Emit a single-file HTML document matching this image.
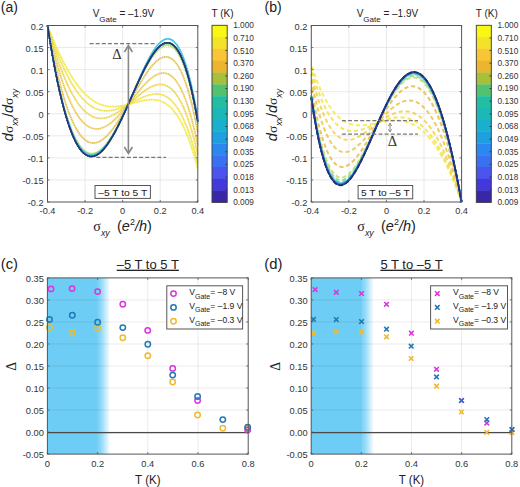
<!DOCTYPE html>
<html><head><meta charset="utf-8"><style>
html,body{margin:0;padding:0;background:#fff;}
svg{display:block;}
</style></head><body>
<svg width="520" height="487" viewBox="0 0 520 487">
<rect width="520" height="487" fill="#fff"/>
<line x1="85.08" y1="25.5" x2="85.08" y2="202.0" stroke="#e3e3e3" stroke-width="0.8"/>
<line x1="122.65" y1="25.5" x2="122.65" y2="202.0" stroke="#e3e3e3" stroke-width="0.8"/>
<line x1="160.23" y1="25.5" x2="160.23" y2="202.0" stroke="#e3e3e3" stroke-width="0.8"/>
<line x1="47.5" y1="47.56" x2="197.8" y2="47.56" stroke="#e3e3e3" stroke-width="0.8"/>
<line x1="47.5" y1="69.62" x2="197.8" y2="69.62" stroke="#e3e3e3" stroke-width="0.8"/>
<line x1="47.5" y1="91.69" x2="197.8" y2="91.69" stroke="#e3e3e3" stroke-width="0.8"/>
<line x1="47.5" y1="113.75" x2="197.8" y2="113.75" stroke="#e3e3e3" stroke-width="0.8"/>
<line x1="47.5" y1="135.81" x2="197.8" y2="135.81" stroke="#e3e3e3" stroke-width="0.8"/>
<line x1="47.5" y1="157.88" x2="197.8" y2="157.88" stroke="#e3e3e3" stroke-width="0.8"/>
<line x1="47.5" y1="179.94" x2="197.8" y2="179.94" stroke="#e3e3e3" stroke-width="0.8"/>
<path d="M47.50,25.50 L48.44,27.93 L49.38,30.33 L50.32,32.70 L51.26,35.03 L52.20,37.32 L53.14,39.58 L54.08,41.81 L55.02,44.00 L55.95,46.15 L56.89,48.27 L57.83,50.35 L58.77,52.40 L59.71,54.40 L60.65,56.37 L61.59,58.30 L62.53,60.20 L63.47,62.05 L64.41,63.87 L65.35,65.65 L66.29,67.38 L67.23,69.08 L68.17,70.74 L69.11,72.36 L70.05,73.95 L70.98,75.49 L71.92,76.99 L72.86,78.45 L73.80,79.88 L74.74,81.26 L75.68,82.60 L76.62,83.91 L77.56,85.17 L78.50,86.40 L79.44,87.59 L80.38,88.73 L81.32,89.84 L82.26,90.91 L83.20,91.95 L84.14,92.94 L85.08,93.89 L86.01,94.81 L86.95,95.69 L87.89,96.53 L88.83,97.34 L89.77,98.11 L90.71,98.84 L91.65,99.53 L92.59,100.19 L93.53,100.82 L94.47,101.41 L95.41,101.96 L96.35,102.48 L97.29,102.97 L98.23,103.42 L99.17,103.84 L100.11,104.23 L101.04,104.59 L101.98,104.92 L102.92,105.22 L103.86,105.48 L104.80,105.72 L105.74,105.93 L106.68,106.11 L107.62,106.26 L108.56,106.39 L109.50,106.49 L110.44,106.57 L111.38,106.62 L112.32,106.65 L113.26,106.66 L114.20,106.64 L115.14,106.60 L116.07,106.55 L117.01,106.47 L117.95,106.37 L118.89,106.26 L119.83,106.13 L120.77,105.99 L121.71,105.83 L122.65,105.65 L123.59,105.47 L124.53,105.27 L125.47,105.06 L126.41,104.84 L127.35,104.61 L128.29,104.38 L129.23,104.13 L130.16,103.89 L131.10,103.64 L132.04,103.38 L132.98,103.13 L133.92,102.87 L134.86,102.62 L135.80,102.36 L136.74,102.11 L137.68,101.87 L138.62,101.63 L139.56,101.39 L140.50,101.17 L141.44,100.95 L142.38,100.75 L143.32,100.56 L144.26,100.38 L145.19,100.22 L146.13,100.08 L147.07,99.95 L148.01,99.84 L148.95,99.76 L149.89,99.70 L150.83,99.66 L151.77,99.65 L152.71,99.67 L153.65,99.71 L154.59,99.79 L155.53,99.90 L156.47,100.04 L157.41,100.22 L158.35,100.44 L159.29,100.69 L160.22,100.99 L161.16,101.33 L162.10,101.71 L163.04,102.14 L163.98,102.62 L164.92,103.15 L165.86,103.73 L166.80,104.37 L167.74,105.06 L168.68,105.81 L169.62,106.61 L170.56,107.48 L171.50,108.42 L172.44,109.41 L173.38,110.48 L174.32,111.62 L175.25,112.82 L176.19,114.10 L177.13,115.46 L178.07,116.89 L179.01,118.41 L179.95,120.00 L180.89,121.68 L181.83,123.45 L182.77,125.30 L183.71,127.25 L184.65,129.29 L185.59,131.42 L186.53,133.65 L187.47,135.99 L188.41,138.42 L189.35,140.96 L190.28,143.60 L191.22,146.36 L192.16,149.23 L193.10,152.21 L194.04,155.30 L194.98,158.52 L195.92,161.86 L196.86,165.32 L197.80,168.91" fill="none" stroke="#f1ea46" stroke-width="1.8" stroke-dasharray="1.4 0.35"/>
<path d="M47.50,25.50 L48.44,28.37 L49.38,31.18 L50.32,33.95 L51.26,36.67 L52.20,39.34 L53.14,41.96 L54.08,44.53 L55.02,47.05 L55.95,49.52 L56.89,51.94 L57.83,54.32 L58.77,56.64 L59.71,58.91 L60.65,61.12 L61.59,63.29 L62.53,65.41 L63.47,67.48 L64.41,69.49 L65.35,71.45 L66.29,73.37 L67.23,75.23 L68.17,77.04 L69.11,78.80 L70.05,80.51 L70.98,82.17 L71.92,83.78 L72.86,85.34 L73.80,86.85 L74.74,88.31 L75.68,89.72 L76.62,91.08 L77.56,92.39 L78.50,93.65 L79.44,94.87 L80.38,96.03 L81.32,97.15 L82.26,98.22 L83.20,99.24 L84.14,100.22 L85.08,101.14 L86.01,102.03 L86.95,102.86 L87.89,103.65 L88.83,104.40 L89.77,105.10 L90.71,105.76 L91.65,106.37 L92.59,106.95 L93.53,107.48 L94.47,107.97 L95.41,108.41 L96.35,108.82 L97.29,109.19 L98.23,109.52 L99.17,109.81 L100.11,110.06 L101.04,110.27 L101.98,110.45 L102.92,110.60 L103.86,110.71 L104.80,110.78 L105.74,110.82 L106.68,110.83 L107.62,110.81 L108.56,110.76 L109.50,110.68 L110.44,110.57 L111.38,110.43 L112.32,110.26 L113.26,110.07 L114.20,109.86 L115.14,109.62 L116.07,109.35 L117.01,109.07 L117.95,108.77 L118.89,108.44 L119.83,108.10 L120.77,107.74 L121.71,107.36 L122.65,106.97 L123.59,106.56 L124.53,106.14 L125.47,105.71 L126.41,105.27 L127.35,104.82 L128.29,104.36 L129.23,103.89 L130.16,103.42 L131.10,102.95 L132.04,102.47 L132.98,101.99 L133.92,101.51 L134.86,101.04 L135.80,100.56 L136.74,100.09 L137.68,99.63 L138.62,99.17 L139.56,98.73 L140.50,98.29 L141.44,97.86 L142.38,97.45 L143.32,97.05 L144.26,96.67 L145.19,96.31 L146.13,95.97 L147.07,95.65 L148.01,95.35 L148.95,95.08 L149.89,94.83 L150.83,94.61 L151.77,94.42 L152.71,94.27 L153.65,94.14 L154.59,94.05 L155.53,94.00 L156.47,93.99 L157.41,94.02 L158.35,94.09 L159.29,94.21 L160.22,94.37 L161.16,94.58 L162.10,94.84 L163.04,95.16 L163.98,95.52 L164.92,95.95 L165.86,96.43 L166.80,96.97 L167.74,97.58 L168.68,98.25 L169.62,98.98 L170.56,99.79 L171.50,100.66 L172.44,101.61 L173.38,102.64 L174.32,103.74 L175.25,104.92 L176.19,106.18 L177.13,107.53 L178.07,108.96 L179.01,110.49 L179.95,112.10 L180.89,113.80 L181.83,115.61 L182.77,117.51 L183.71,119.51 L184.65,121.61 L185.59,123.82 L186.53,126.14 L187.47,128.56 L188.41,131.10 L189.35,133.75 L190.28,136.53 L191.22,139.42 L192.16,142.43 L193.10,145.57 L194.04,148.84 L194.98,152.24 L195.92,155.77 L196.86,159.44 L197.80,163.24" fill="none" stroke="#efe248" stroke-width="1.8" stroke-dasharray="1.4 0.35"/>
<path d="M47.50,25.50 L48.44,28.98 L49.38,32.39 L50.32,35.73 L51.26,39.00 L52.20,42.20 L53.14,45.33 L54.08,48.39 L55.02,51.38 L55.95,54.30 L56.89,57.15 L57.83,59.93 L58.77,62.64 L59.71,65.28 L60.65,67.85 L61.59,70.36 L62.53,72.79 L63.47,75.16 L64.41,77.46 L65.35,79.68 L66.29,81.85 L67.23,83.94 L68.17,85.97 L69.11,87.93 L70.05,89.82 L70.98,91.65 L71.92,93.41 L72.86,95.10 L73.80,96.74 L74.74,98.30 L75.68,99.80 L76.62,101.24 L77.56,102.62 L78.50,103.93 L79.44,105.18 L80.38,106.37 L81.32,107.50 L82.26,108.57 L83.20,109.58 L84.14,110.52 L85.08,111.42 L86.01,112.25 L86.95,113.02 L87.89,113.74 L88.83,114.41 L89.77,115.02 L90.71,115.57 L91.65,116.07 L92.59,116.52 L93.53,116.92 L94.47,117.26 L95.41,117.56 L96.35,117.81 L97.29,118.00 L98.23,118.16 L99.17,118.26 L100.11,118.32 L101.04,118.33 L101.98,118.31 L102.92,118.23 L103.86,118.12 L104.80,117.97 L105.74,117.77 L106.68,117.54 L107.62,117.27 L108.56,116.97 L109.50,116.63 L110.44,116.26 L111.38,115.85 L112.32,115.41 L113.26,114.95 L114.20,114.45 L115.14,113.92 L116.07,113.37 L117.01,112.79 L117.95,112.19 L118.89,111.57 L119.83,110.92 L120.77,110.25 L121.71,109.57 L122.65,108.86 L123.59,108.14 L124.53,107.40 L125.47,106.65 L126.41,105.89 L127.35,105.11 L128.29,104.33 L129.23,103.54 L130.16,102.74 L131.10,101.94 L132.04,101.13 L132.98,100.32 L133.92,99.51 L134.86,98.71 L135.80,97.91 L136.74,97.11 L137.68,96.32 L138.62,95.54 L139.56,94.77 L140.50,94.01 L141.44,93.27 L142.38,92.54 L143.32,91.83 L144.26,91.15 L145.19,90.48 L146.13,89.84 L147.07,89.22 L148.01,88.64 L148.95,88.08 L149.89,87.55 L150.83,87.06 L151.77,86.60 L152.71,86.19 L153.65,85.81 L154.59,85.47 L155.53,85.18 L156.47,84.93 L157.41,84.73 L158.35,84.59 L159.29,84.49 L160.22,84.45 L161.16,84.47 L162.10,84.54 L163.04,84.68 L163.98,84.88 L164.92,85.14 L165.86,85.48 L166.80,85.88 L167.74,86.36 L168.68,86.91 L169.62,87.54 L170.56,88.25 L171.50,89.04 L172.44,89.91 L173.38,90.87 L174.32,91.92 L175.25,93.07 L176.19,94.30 L177.13,95.64 L178.07,97.07 L179.01,98.61 L179.95,100.24 L180.89,101.99 L181.83,103.85 L182.77,105.81 L183.71,107.89 L184.65,110.09 L185.59,112.41 L186.53,114.86 L187.47,117.42 L188.41,120.12 L189.35,122.95 L190.28,125.91 L191.22,129.00 L192.16,132.24 L193.10,135.62 L194.04,139.14 L194.98,142.81 L195.92,146.64 L196.86,150.61 L197.80,154.74" fill="none" stroke="#ecd64c" stroke-width="1.8" stroke-dasharray="1.4 0.35"/>
<path d="M47.50,25.50 L48.44,29.74 L49.38,33.88 L50.32,37.93 L51.26,41.87 L52.20,45.73 L53.14,49.49 L54.08,53.15 L55.02,56.72 L55.95,60.19 L56.89,63.57 L57.83,66.86 L58.77,70.05 L59.71,73.16 L60.65,76.17 L61.59,79.08 L62.53,81.91 L63.47,84.65 L64.41,87.29 L65.35,89.85 L66.29,92.32 L67.23,94.70 L68.17,96.99 L69.11,99.20 L70.05,101.32 L70.98,103.35 L71.92,105.30 L72.86,107.16 L73.80,108.94 L74.74,110.64 L75.68,112.26 L76.62,113.79 L77.56,115.25 L78.50,116.62 L79.44,117.92 L80.38,119.14 L81.32,120.28 L82.26,121.35 L83.20,122.34 L84.14,123.26 L85.08,124.10 L86.01,124.87 L86.95,125.57 L87.89,126.20 L88.83,126.76 L89.77,127.26 L90.71,127.68 L91.65,128.04 L92.59,128.34 L93.53,128.57 L94.47,128.74 L95.41,128.84 L96.35,128.89 L97.29,128.88 L98.23,128.81 L99.17,128.68 L100.11,128.50 L101.04,128.26 L101.98,127.98 L102.92,127.64 L103.86,127.25 L104.80,126.81 L105.74,126.32 L106.68,125.79 L107.62,125.21 L108.56,124.59 L109.50,123.93 L110.44,123.23 L111.38,122.48 L112.32,121.71 L113.26,120.89 L114.20,120.04 L115.14,119.16 L116.07,118.25 L117.01,117.31 L117.95,116.34 L118.89,115.34 L119.83,114.32 L120.77,113.28 L121.71,112.21 L122.65,111.12 L123.59,110.02 L124.53,108.90 L125.47,107.77 L126.41,106.62 L127.35,105.47 L128.29,104.30 L129.23,103.13 L130.16,101.95 L131.10,100.76 L132.04,99.58 L132.98,98.40 L133.92,97.21 L134.86,96.04 L135.80,94.87 L136.74,93.70 L137.68,92.55 L138.62,91.41 L139.56,90.28 L140.50,89.17 L141.44,88.08 L142.38,87.01 L143.32,85.96 L144.26,84.93 L145.19,83.93 L146.13,82.96 L147.07,82.02 L148.01,81.12 L148.95,80.25 L149.89,79.42 L150.83,78.62 L151.77,77.87 L152.71,77.17 L153.65,76.51 L154.59,75.90 L155.53,75.34 L156.47,74.84 L157.41,74.39 L158.35,74.00 L159.29,73.68 L160.22,73.41 L161.16,73.21 L162.10,73.08 L163.04,73.03 L163.98,73.04 L164.92,73.13 L165.86,73.30 L166.80,73.55 L167.74,73.89 L168.68,74.31 L169.62,74.82 L170.56,75.42 L171.50,76.11 L172.44,76.91 L173.38,77.80 L174.32,78.80 L175.25,79.90 L176.19,81.10 L177.13,82.42 L178.07,83.85 L179.01,85.40 L179.95,87.07 L180.89,88.86 L181.83,90.78 L182.77,92.82 L183.71,94.99 L184.65,97.30 L185.59,99.74 L186.53,102.32 L187.47,105.05 L188.41,107.92 L189.35,110.94 L190.28,114.11 L191.22,117.43 L192.16,120.92 L193.10,124.56 L194.04,128.37 L194.98,132.34 L195.92,136.49 L196.86,140.81 L197.80,145.30" fill="none" stroke="#e8ca52" stroke-width="1.8" stroke-dasharray="1.4 0.35"/>
<path d="M47.50,25.50 L48.44,30.68 L49.38,35.73 L50.32,40.64 L51.26,45.44 L52.20,50.10 L53.14,54.64 L54.08,59.05 L55.02,63.33 L55.95,67.49 L56.89,71.53 L57.83,75.44 L58.77,79.24 L59.71,82.91 L60.65,86.46 L61.59,89.89 L62.53,93.20 L63.47,96.40 L64.41,99.48 L65.35,102.44 L66.29,105.29 L67.23,108.02 L68.17,110.64 L69.11,113.15 L70.05,115.55 L70.98,117.84 L71.92,120.02 L72.86,122.09 L73.80,124.06 L74.74,125.92 L75.68,127.68 L76.62,129.34 L77.56,130.89 L78.50,132.34 L79.44,133.70 L80.38,134.95 L81.32,136.11 L82.26,137.18 L83.20,138.15 L84.14,139.02 L85.08,139.81 L86.01,140.51 L86.95,141.11 L87.89,141.63 L88.83,142.07 L89.77,142.42 L90.71,142.69 L91.65,142.87 L92.59,142.98 L93.53,143.00 L94.47,142.95 L95.41,142.83 L96.35,142.63 L97.29,142.36 L98.23,142.02 L99.17,141.61 L100.11,141.13 L101.04,140.59 L101.98,139.98 L102.92,139.31 L103.86,138.58 L104.80,137.79 L105.74,136.94 L106.68,136.04 L107.62,135.08 L108.56,134.08 L109.50,133.02 L110.44,131.91 L111.38,130.76 L112.32,129.57 L113.26,128.33 L114.20,127.05 L115.14,125.73 L116.07,124.37 L117.01,122.98 L117.95,121.56 L118.89,120.10 L119.83,118.62 L120.77,117.10 L121.71,115.57 L122.65,114.00 L123.59,112.42 L124.53,110.82 L125.47,109.20 L126.41,107.57 L127.35,105.92 L128.29,104.26 L129.23,102.59 L130.16,100.92 L131.10,99.24 L132.04,97.56 L132.98,95.88 L133.92,94.20 L134.86,92.52 L135.80,90.86 L136.74,89.20 L137.68,87.56 L138.62,85.93 L139.56,84.32 L140.50,82.73 L141.44,81.16 L142.38,79.62 L143.32,78.11 L144.26,76.62 L145.19,75.17 L146.13,73.75 L147.07,72.37 L148.01,71.03 L148.95,69.74 L149.89,68.49 L150.83,67.29 L151.77,66.14 L152.71,65.04 L153.65,64.00 L154.59,63.02 L155.53,62.10 L156.47,61.24 L157.41,60.46 L158.35,59.74 L159.29,59.10 L160.22,58.53 L161.16,58.04 L162.10,57.63 L163.04,57.31 L163.98,57.07 L164.92,56.92 L165.86,56.87 L166.80,56.91 L167.74,57.06 L168.68,57.30 L169.62,57.65 L170.56,58.11 L171.50,58.67 L172.44,59.36 L173.38,60.15 L174.32,61.07 L175.25,62.12 L176.19,63.29 L177.13,64.58 L178.07,66.02 L179.01,67.58 L179.95,69.29 L180.89,71.14 L181.83,73.13 L182.77,75.28 L183.71,77.57 L184.65,80.02 L185.59,82.63 L186.53,85.41 L187.47,88.34 L188.41,91.45 L189.35,94.73 L190.28,98.18 L191.22,101.82 L192.16,105.63 L193.10,109.63 L194.04,113.82 L194.98,118.21 L195.92,122.79 L196.86,127.57 L197.80,132.55" fill="none" stroke="#e2c056" stroke-width="1.8" stroke-dasharray="1.4 0.35"/>
<path d="M47.50,25.50 L48.44,31.35 L49.38,37.04 L50.32,42.58 L51.26,47.97 L52.20,53.21 L53.14,58.30 L54.08,63.24 L55.02,68.04 L55.95,72.69 L56.89,77.19 L57.83,81.55 L58.77,85.77 L59.71,89.85 L60.65,93.78 L61.59,97.58 L62.53,101.24 L63.47,104.76 L64.41,108.14 L65.35,111.39 L66.29,114.51 L67.23,117.50 L68.17,120.35 L69.11,123.08 L70.05,125.68 L70.98,128.15 L71.92,130.49 L72.86,132.72 L73.80,134.82 L74.74,136.79 L75.68,138.65 L76.62,140.39 L77.56,142.02 L78.50,143.53 L79.44,144.92 L80.38,146.20 L81.32,147.37 L82.26,148.44 L83.20,149.39 L84.14,150.24 L85.08,150.99 L86.01,151.63 L86.95,152.17 L87.89,152.61 L88.83,152.96 L89.77,153.20 L90.71,153.36 L91.65,153.42 L92.59,153.39 L93.53,153.27 L94.47,153.07 L95.41,152.78 L96.35,152.40 L97.29,151.95 L98.23,151.41 L99.17,150.80 L100.11,150.11 L101.04,149.34 L101.98,148.51 L102.92,147.60 L103.86,146.63 L104.80,145.59 L105.74,144.49 L106.68,143.32 L107.62,142.09 L108.56,140.81 L109.50,139.47 L110.44,138.08 L111.38,136.63 L112.32,135.14 L113.26,133.59 L114.20,132.01 L115.14,130.37 L116.07,128.70 L117.01,126.99 L117.95,125.24 L118.89,123.46 L119.83,121.65 L120.77,119.80 L121.71,117.93 L122.65,116.03 L123.59,114.11 L124.53,112.17 L125.47,110.20 L126.41,108.23 L127.35,106.23 L128.29,104.23 L129.23,102.22 L130.16,100.20 L131.10,98.17 L132.04,96.15 L132.98,94.12 L133.92,92.10 L134.86,90.09 L135.80,88.09 L136.74,86.09 L137.68,84.11 L138.62,82.15 L139.56,80.21 L140.50,78.29 L141.44,76.40 L142.38,74.54 L143.32,72.70 L144.26,70.90 L145.19,69.14 L146.13,67.42 L147.07,65.74 L148.01,64.10 L148.95,62.52 L149.89,60.98 L150.83,59.50 L151.77,58.08 L152.71,56.71 L153.65,55.41 L154.59,54.18 L155.53,53.01 L156.47,51.92 L157.41,50.90 L158.35,49.96 L159.29,49.10 L160.22,48.32 L161.16,47.64 L162.10,47.04 L163.04,46.53 L163.98,46.13 L164.92,45.82 L165.86,45.61 L166.80,45.51 L167.74,45.52 L168.68,45.65 L169.62,45.88 L170.56,46.24 L171.50,46.72 L172.44,47.33 L173.38,48.06 L174.32,48.93 L175.25,49.93 L176.19,51.08 L177.13,52.36 L178.07,53.79 L179.01,55.37 L179.95,57.11 L180.89,58.99 L181.83,61.04 L182.77,63.26 L183.71,65.64 L184.65,68.19 L185.59,70.91 L186.53,73.81 L187.47,76.90 L188.41,80.16 L189.35,83.62 L190.28,87.27 L191.22,91.11 L192.16,95.16 L193.10,99.40 L194.04,103.86 L194.98,108.52 L195.92,113.40 L196.86,118.50 L197.80,123.82" fill="none" stroke="#c8dc6a" stroke-width="1.5" stroke-dasharray="1.4 0.35"/>
<path d="M47.50,25.50 L48.44,31.38 L49.38,37.11 L50.32,42.68 L51.26,48.11 L52.20,53.38 L53.14,58.50 L54.08,63.47 L55.02,68.29 L55.95,72.97 L56.89,77.50 L57.83,81.88 L58.77,86.12 L59.71,90.22 L60.65,94.18 L61.59,97.99 L62.53,101.67 L63.47,105.21 L64.41,108.61 L65.35,111.88 L66.29,115.01 L67.23,118.01 L68.17,120.88 L69.11,123.62 L70.05,126.22 L70.98,128.71 L71.92,131.06 L72.86,133.29 L73.80,135.40 L74.74,137.38 L75.68,139.25 L76.62,140.99 L77.56,142.62 L78.50,144.13 L79.44,145.53 L80.38,146.81 L81.32,147.98 L82.26,149.05 L83.20,150.00 L84.14,150.85 L85.08,151.59 L86.01,152.23 L86.95,152.77 L87.89,153.21 L88.83,153.55 L89.77,153.79 L90.71,153.94 L91.65,153.99 L92.59,153.96 L93.53,153.83 L94.47,153.62 L95.41,153.32 L96.35,152.94 L97.29,152.47 L98.23,151.93 L99.17,151.30 L100.11,150.60 L101.04,149.83 L101.98,148.98 L102.92,148.07 L103.86,147.08 L104.80,146.03 L105.74,144.91 L106.68,143.73 L107.62,142.50 L108.56,141.20 L109.50,139.84 L110.44,138.44 L111.38,136.98 L112.32,135.47 L113.26,133.91 L114.20,132.31 L115.14,130.66 L116.07,128.97 L117.01,127.25 L117.95,125.48 L118.89,123.68 L119.83,121.85 L120.77,119.98 L121.71,118.09 L122.65,116.17 L123.59,114.23 L124.53,112.26 L125.47,110.28 L126.41,108.28 L127.35,106.26 L128.29,104.23 L129.23,102.19 L130.16,100.14 L131.10,98.08 L132.04,96.03 L132.98,93.97 L133.92,91.92 L134.86,89.87 L135.80,87.83 L136.74,85.80 L137.68,83.78 L138.62,81.79 L139.56,79.81 L140.50,77.85 L141.44,75.92 L142.38,74.02 L143.32,72.15 L144.26,70.32 L145.19,68.52 L146.13,66.76 L147.07,65.05 L148.01,63.38 L148.95,61.76 L149.89,60.19 L150.83,58.68 L151.77,57.23 L152.71,55.83 L153.65,54.50 L154.59,53.24 L155.53,52.05 L156.47,50.92 L157.41,49.88 L158.35,48.91 L159.29,48.03 L160.22,47.23 L161.16,46.52 L162.10,45.90 L163.04,45.37 L163.98,44.95 L164.92,44.62 L165.86,44.40 L166.80,44.28 L167.74,44.28 L168.68,44.39 L169.62,44.61 L170.56,44.96 L171.50,45.43 L172.44,46.03 L173.38,46.76 L174.32,47.62 L175.25,48.62 L176.19,49.76 L177.13,51.04 L178.07,52.47 L179.01,54.05 L179.95,55.79 L180.89,57.68 L181.83,59.74 L182.77,61.96 L183.71,64.35 L184.65,66.91 L185.59,69.64 L186.53,72.56 L187.47,75.66 L188.41,78.94 L189.35,82.42 L190.28,86.09 L191.22,89.96 L192.16,94.02 L193.10,98.30 L194.04,102.78 L194.98,107.47 L195.92,112.39 L196.86,117.52 L197.80,122.87" fill="none" stroke="#98d88e" stroke-width="1.5" stroke-dasharray="1.4 0.35"/>
<path d="M47.50,25.50 L48.44,31.42 L49.38,37.18 L50.32,42.79 L51.26,48.24 L52.20,53.55 L53.14,58.70 L54.08,63.70 L55.02,68.55 L55.95,73.25 L56.89,77.80 L57.83,82.21 L58.77,86.48 L59.71,90.60 L60.65,94.57 L61.59,98.41 L62.53,102.10 L63.47,105.66 L64.41,109.08 L65.35,112.36 L66.29,115.51 L67.23,118.52 L68.17,121.40 L69.11,124.15 L70.05,126.77 L70.98,129.26 L71.92,131.63 L72.86,133.87 L73.80,135.98 L74.74,137.97 L75.68,139.84 L76.62,141.59 L77.56,143.22 L78.50,144.74 L79.44,146.14 L80.38,147.42 L81.32,148.59 L82.26,149.66 L83.20,150.61 L84.14,151.46 L85.08,152.20 L86.01,152.84 L86.95,153.37 L87.89,153.80 L88.83,154.14 L89.77,154.38 L90.71,154.52 L91.65,154.57 L92.59,154.53 L93.53,154.39 L94.47,154.17 L95.41,153.87 L96.35,153.48 L97.29,153.00 L98.23,152.45 L99.17,151.81 L100.11,151.11 L101.04,150.32 L101.98,149.46 L102.92,148.54 L103.86,147.54 L104.80,146.48 L105.74,145.35 L106.68,144.16 L107.62,142.91 L108.56,141.60 L109.50,140.23 L110.44,138.81 L111.38,137.34 L112.32,135.82 L113.26,134.24 L114.20,132.63 L115.14,130.97 L116.07,129.26 L117.01,127.52 L117.95,125.74 L118.89,123.92 L119.83,122.07 L120.77,120.19 L121.71,118.27 L122.65,116.33 L123.59,114.37 L124.53,112.38 L125.47,110.37 L126.41,108.33 L127.35,106.29 L128.29,104.22 L129.23,102.15 L130.16,100.07 L131.10,97.98 L132.04,95.88 L132.98,93.78 L133.92,91.69 L134.86,89.60 L135.80,87.52 L136.74,85.44 L137.68,83.38 L138.62,81.34 L139.56,79.32 L140.50,77.32 L141.44,75.34 L142.38,73.39 L143.32,71.48 L144.26,69.60 L145.19,67.76 L146.13,65.95 L147.07,64.20 L148.01,62.48 L148.95,60.82 L149.89,59.21 L150.83,57.66 L151.77,56.17 L152.71,54.73 L153.65,53.37 L154.59,52.07 L155.53,50.84 L156.47,49.68 L157.41,48.60 L158.35,47.61 L159.29,46.69 L160.22,45.86 L161.16,45.12 L162.10,44.48 L163.04,43.93 L163.98,43.48 L164.92,43.13 L165.86,42.88 L166.80,42.75 L167.74,42.73 L168.68,42.82 L169.62,43.03 L170.56,43.36 L171.50,43.82 L172.44,44.41 L173.38,45.13 L174.32,45.98 L175.25,46.97 L176.19,48.11 L177.13,49.39 L178.07,50.82 L179.01,52.40 L179.95,54.14 L180.89,56.04 L181.83,58.11 L182.77,60.33 L183.71,62.73 L184.65,65.31 L185.59,68.06 L186.53,70.99 L187.47,74.11 L188.41,77.42 L189.35,80.92 L190.28,84.61 L191.22,88.51 L192.16,92.61 L193.10,96.92 L194.04,101.43 L194.98,106.17 L195.92,111.12 L196.86,116.29 L197.80,121.69" fill="none" stroke="#5ecfae" stroke-width="1.5" stroke-dasharray="1.4 0.35"/>
<path d="M47.50,25.50 L48.44,31.45 L49.38,37.25 L50.32,42.89 L51.26,48.38 L52.20,53.71 L53.14,58.89 L54.08,63.92 L55.02,68.80 L55.95,73.53 L56.89,78.11 L57.83,82.54 L58.77,86.83 L59.71,90.97 L60.65,94.97 L61.59,98.82 L62.53,102.54 L63.47,106.11 L64.41,109.55 L65.35,112.85 L66.29,116.01 L67.23,119.04 L68.17,121.93 L69.11,124.69 L70.05,127.32 L70.98,129.82 L71.92,132.20 L72.86,134.44 L73.80,136.56 L74.74,138.56 L75.68,140.44 L76.62,142.19 L77.56,143.83 L78.50,145.35 L79.44,146.75 L80.38,148.03 L81.32,149.21 L82.26,150.27 L83.20,151.23 L84.14,152.07 L85.08,152.81 L86.01,153.45 L86.95,153.98 L87.89,154.41 L88.83,154.74 L89.77,154.98 L90.71,155.12 L91.65,155.16 L92.59,155.12 L93.53,154.98 L94.47,154.75 L95.41,154.44 L96.35,154.04 L97.29,153.56 L98.23,153.00 L99.17,152.36 L100.11,151.65 L101.04,150.86 L101.98,150.00 L102.92,149.06 L103.86,148.06 L104.80,146.99 L105.74,145.86 L106.68,144.66 L107.62,143.41 L108.56,142.09 L109.50,140.72 L110.44,139.29 L111.38,137.81 L112.32,136.29 L113.26,134.71 L114.20,133.08 L115.14,131.41 L116.07,129.70 L117.01,127.94 L117.95,126.15 L118.89,124.32 L119.83,122.45 L120.77,120.54 L121.71,118.60 L122.65,116.63 L123.59,114.63 L124.53,112.60 L125.47,110.54 L126.41,108.45 L127.35,106.35 L128.29,104.22 L129.23,102.07 L130.16,99.91 L131.10,97.73 L132.04,95.55 L132.98,93.36 L133.92,91.16 L134.86,88.96 L135.80,86.77 L136.74,84.58 L137.68,82.41 L138.62,80.25 L139.56,78.10 L140.50,75.98 L141.44,73.89 L142.38,71.82 L143.32,69.78 L144.26,67.78 L145.19,65.82 L146.13,63.90 L147.07,62.02 L148.01,60.20 L148.95,58.42 L149.89,56.70 L150.83,55.04 L151.77,53.44 L152.71,51.91 L153.65,50.44 L154.59,49.04 L155.53,47.72 L156.47,46.47 L157.41,45.31 L158.35,44.23 L159.29,43.23 L160.22,42.32 L161.16,41.51 L162.10,40.79 L163.04,40.17 L163.98,39.66 L164.92,39.25 L165.86,38.95 L166.80,38.76 L167.74,38.69 L168.68,38.74 L169.62,38.91 L170.56,39.21 L171.50,39.63 L172.44,40.19 L173.38,40.89 L174.32,41.72 L175.25,42.70 L176.19,43.83 L177.13,45.10 L178.07,46.53 L179.01,48.12 L179.95,49.87 L180.89,51.78 L181.83,53.86 L182.77,56.11 L183.71,58.54 L184.65,61.15 L185.59,63.94 L186.53,66.92 L187.47,70.09 L188.41,73.46 L189.35,77.02 L190.28,80.78 L191.22,84.75 L192.16,88.93 L193.10,93.32 L194.04,97.93 L194.98,102.76 L195.92,107.82 L196.86,113.11 L197.80,118.62" fill="none" stroke="#48cad0" stroke-width="1.5" stroke-dasharray="1.4 0.35"/>
<path d="M47.50,25.50 L48.44,31.49 L49.38,37.32 L50.32,43.00 L51.26,48.52 L52.20,53.88 L53.14,59.09 L54.08,64.15 L55.02,69.05 L55.95,73.81 L56.89,78.42 L57.83,82.87 L58.77,87.18 L59.71,91.35 L60.65,95.36 L61.59,99.24 L62.53,102.97 L63.47,106.57 L64.41,110.02 L65.35,113.33 L66.29,116.51 L67.23,119.55 L68.17,122.45 L69.11,125.23 L70.05,127.87 L70.98,130.38 L71.92,132.76 L72.86,135.02 L73.80,137.14 L74.74,139.15 L75.68,141.03 L76.62,142.79 L77.56,144.43 L78.50,145.95 L79.44,147.35 L80.38,148.64 L81.32,149.82 L82.26,150.88 L83.20,151.83 L84.14,152.68 L85.08,153.41 L86.01,154.05 L86.95,154.58 L87.89,155.00 L88.83,155.33 L89.77,155.56 L90.71,155.69 L91.65,155.73 L92.59,155.67 L93.53,155.53 L94.47,155.29 L95.41,154.97 L96.35,154.56 L97.29,154.07 L98.23,153.50 L99.17,152.85 L100.11,152.12 L101.04,151.31 L101.98,150.44 L102.92,149.49 L103.86,148.47 L104.80,147.39 L105.74,146.24 L106.68,145.03 L107.62,143.75 L108.56,142.42 L109.50,141.03 L110.44,139.59 L111.38,138.09 L112.32,136.54 L113.26,134.94 L114.20,133.30 L115.14,131.61 L116.07,129.88 L117.01,128.10 L117.95,126.29 L118.89,124.44 L119.83,122.55 L120.77,120.63 L121.71,118.67 L122.65,116.69 L123.59,114.67 L124.53,112.63 L125.47,110.56 L126.41,108.47 L127.35,106.35 L128.29,104.22 L129.23,102.07 L130.16,99.90 L131.10,97.73 L132.04,95.54 L132.98,93.35 L133.92,91.16 L134.86,88.97 L135.80,86.78 L136.74,84.60 L137.68,82.44 L138.62,80.29 L139.56,78.15 L140.50,76.04 L141.44,73.95 L142.38,71.90 L143.32,69.87 L144.26,67.88 L145.19,65.93 L146.13,64.02 L147.07,62.16 L148.01,60.34 L148.95,58.58 L149.89,56.87 L150.83,55.22 L151.77,53.63 L152.71,52.11 L153.65,50.65 L154.59,49.26 L155.53,47.94 L156.47,46.71 L157.41,45.55 L158.35,44.47 L159.29,43.49 L160.22,42.59 L161.16,41.78 L162.10,41.07 L163.04,40.46 L163.98,39.95 L164.92,39.54 L165.86,39.25 L166.80,39.07 L167.74,39.00 L168.68,39.05 L169.62,39.22 L170.56,39.52 L171.50,39.95 L172.44,40.51 L173.38,41.21 L174.32,42.05 L175.25,43.03 L176.19,44.15 L177.13,45.43 L178.07,46.86 L179.01,48.45 L179.95,50.19 L180.89,52.11 L181.83,54.19 L182.77,56.44 L183.71,58.87 L184.65,61.47 L185.59,64.26 L186.53,67.24 L187.47,70.40 L188.41,73.76 L189.35,77.32 L190.28,81.08 L191.22,85.04 L192.16,89.21 L193.10,93.60 L194.04,98.20 L194.98,103.03 L195.92,108.07 L196.86,113.35 L197.80,118.86" fill="none" stroke="#3fc3e8" stroke-width="1.5" stroke-dasharray="1.4 0.35"/>
<path d="M47.50,25.50 L48.44,31.51 L49.38,37.36 L50.32,43.05 L51.26,48.59 L52.20,53.97 L53.14,59.19 L54.08,64.26 L55.02,69.18 L55.95,73.95 L56.89,78.57 L57.83,83.04 L58.77,87.36 L59.71,91.53 L60.65,95.56 L61.59,99.45 L62.53,103.19 L63.47,106.79 L64.41,110.25 L65.35,113.57 L66.29,116.76 L67.23,119.80 L68.17,122.72 L69.11,125.49 L70.05,128.14 L70.98,130.66 L71.92,133.04 L72.86,135.30 L73.80,137.43 L74.74,139.44 L75.68,141.32 L76.62,143.08 L77.56,144.72 L78.50,146.25 L79.44,147.65 L80.38,148.94 L81.32,150.11 L82.26,151.18 L83.20,152.13 L84.14,152.97 L85.08,153.70 L86.01,154.33 L86.95,154.86 L87.89,155.28 L88.83,155.60 L89.77,155.83 L90.71,155.95 L91.65,155.99 L92.59,155.92 L93.53,155.77 L94.47,155.53 L95.41,155.20 L96.35,154.78 L97.29,154.28 L98.23,153.70 L99.17,153.03 L100.11,152.29 L101.04,151.48 L101.98,150.58 L102.92,149.62 L103.86,148.59 L104.80,147.49 L105.74,146.32 L106.68,145.09 L107.62,143.80 L108.56,142.45 L109.50,141.04 L110.44,139.58 L111.38,138.06 L112.32,136.49 L113.26,134.87 L114.20,133.21 L115.14,131.50 L116.07,129.76 L117.01,127.97 L117.95,126.14 L118.89,124.28 L119.83,122.38 L120.77,120.46 L121.71,118.50 L122.65,116.52 L123.59,114.52 L124.53,112.49 L125.47,110.45 L126.41,108.39 L127.35,106.31 L128.29,104.22 L129.23,102.13 L130.16,100.02 L131.10,97.92 L132.04,95.81 L132.98,93.70 L133.92,91.60 L134.86,89.50 L135.80,87.41 L136.74,85.34 L137.68,83.28 L138.62,81.23 L139.56,79.21 L140.50,77.21 L141.44,75.24 L142.38,73.30 L143.32,71.39 L144.26,69.51 L145.19,67.67 L146.13,65.88 L147.07,64.12 L148.01,62.42 L148.95,60.76 L149.89,59.16 L150.83,57.61 L151.77,56.12 L152.71,54.69 L153.65,53.33 L154.59,52.03 L155.53,50.80 L156.47,49.65 L157.41,48.58 L158.35,47.58 L159.29,46.67 L160.22,45.84 L161.16,45.11 L162.10,44.46 L163.04,43.91 L163.98,43.46 L164.92,43.12 L165.86,42.87 L166.80,42.74 L167.74,42.72 L168.68,42.81 L169.62,43.02 L170.56,43.36 L171.50,43.81 L172.44,44.40 L173.38,45.12 L174.32,45.98 L175.25,46.97 L176.19,48.11 L177.13,49.39 L178.07,50.82 L179.01,52.40 L179.95,54.14 L180.89,56.04 L181.83,58.10 L182.77,60.33 L183.71,62.73 L184.65,65.31 L185.59,68.06 L186.53,70.99 L187.47,74.11 L188.41,77.42 L189.35,80.92 L190.28,84.61 L191.22,88.51 L192.16,92.61 L193.10,96.92 L194.04,101.43 L194.98,106.17 L195.92,111.12 L196.86,116.29 L197.80,121.69" fill="none" stroke="#36a8e4" stroke-width="1.5" stroke-dasharray="1.4 0.35"/>
<path d="M47.50,25.50 L48.44,31.53 L49.38,37.39 L50.32,43.10 L51.26,48.65 L52.20,54.05 L53.14,59.29 L54.08,64.38 L55.02,69.31 L55.95,74.09 L56.89,78.72 L57.83,83.20 L58.77,87.53 L59.71,91.72 L60.65,95.76 L61.59,99.66 L62.53,103.41 L63.47,107.02 L64.41,110.49 L65.35,113.81 L66.29,117.01 L67.23,120.06 L68.17,122.98 L69.11,125.76 L70.05,128.41 L70.98,130.93 L71.92,133.33 L72.86,135.59 L73.80,137.72 L74.74,139.73 L75.68,141.62 L76.62,143.38 L77.56,145.02 L78.50,146.55 L79.44,147.95 L80.38,149.24 L81.32,150.42 L82.26,151.48 L83.20,152.43 L84.14,153.27 L85.08,154.01 L86.01,154.63 L86.95,155.16 L87.89,155.58 L88.83,155.90 L89.77,156.12 L90.71,156.24 L91.65,156.27 L92.59,156.20 L93.53,156.04 L94.47,155.80 L95.41,155.46 L96.35,155.04 L97.29,154.53 L98.23,153.94 L99.17,153.28 L100.11,152.53 L101.04,151.71 L101.98,150.81 L102.92,149.84 L103.86,148.80 L104.80,147.69 L105.74,146.52 L106.68,145.28 L107.62,143.98 L108.56,142.62 L109.50,141.20 L110.44,139.73 L111.38,138.20 L112.32,136.63 L113.26,135.00 L114.20,133.33 L115.14,131.61 L116.07,129.85 L117.01,128.06 L117.95,126.22 L118.89,124.35 L119.83,122.45 L120.77,120.51 L121.71,118.55 L122.65,116.56 L123.59,114.55 L124.53,112.52 L125.47,110.46 L126.41,108.40 L127.35,106.31 L128.29,104.22 L129.23,102.12 L130.16,100.01 L131.10,97.90 L132.04,95.79 L132.98,93.68 L133.92,91.58 L134.86,89.48 L135.80,87.39 L136.74,85.31 L137.68,83.25 L138.62,81.21 L139.56,79.19 L140.50,77.19 L141.44,75.22 L142.38,73.28 L143.32,71.37 L144.26,69.50 L145.19,67.66 L146.13,65.86 L147.07,64.11 L148.01,62.41 L148.95,60.75 L149.89,59.15 L150.83,57.60 L151.77,56.11 L152.71,54.68 L153.65,53.32 L154.59,52.02 L155.53,50.80 L156.47,49.65 L157.41,48.57 L158.35,47.58 L159.29,46.66 L160.22,45.84 L161.16,45.10 L162.10,44.46 L163.04,43.91 L163.98,43.46 L164.92,43.11 L165.86,42.87 L166.80,42.74 L167.74,42.72 L168.68,42.81 L169.62,43.02 L170.56,43.35 L171.50,43.81 L172.44,44.40 L173.38,45.12 L174.32,45.98 L175.25,46.97 L176.19,48.11 L177.13,49.39 L178.07,50.82 L179.01,52.40 L179.95,54.14 L180.89,56.04 L181.83,58.10 L182.77,60.33 L183.71,62.73 L184.65,65.31 L185.59,68.06 L186.53,70.99 L187.47,74.11 L188.41,77.42 L189.35,80.92 L190.28,84.61 L191.22,88.51 L192.16,92.61 L193.10,96.92 L194.04,101.43 L194.98,106.17 L195.92,111.12 L196.86,116.29 L197.80,121.69" fill="none" stroke="#2a86dc" stroke-width="1.5" stroke-dasharray="1.4 0.35"/>
<path d="M47.50,25.50 L48.44,31.54 L49.38,37.43 L50.32,43.16 L51.26,48.72 L52.20,54.13 L53.14,59.39 L54.08,64.49 L55.02,69.44 L55.95,74.23 L56.89,78.87 L57.83,83.37 L58.77,87.71 L59.71,91.91 L60.65,95.96 L61.59,99.86 L62.53,103.62 L63.47,107.24 L64.41,110.72 L65.35,114.06 L66.29,117.25 L67.23,120.32 L68.17,123.24 L69.11,126.03 L70.05,128.69 L70.98,131.21 L71.92,133.61 L72.86,135.87 L73.80,138.01 L74.74,140.03 L75.68,141.91 L76.62,143.68 L77.56,145.32 L78.50,146.85 L79.44,148.26 L80.38,149.55 L81.32,150.72 L82.26,151.78 L83.20,152.73 L84.14,153.57 L85.08,154.31 L86.01,154.93 L86.95,155.45 L87.89,155.87 L88.83,156.19 L89.77,156.41 L90.71,156.53 L91.65,156.55 L92.59,156.48 L93.53,156.32 L94.47,156.07 L95.41,155.73 L96.35,155.30 L97.29,154.79 L98.23,154.19 L99.17,153.52 L100.11,152.77 L101.04,151.94 L101.98,151.03 L102.92,150.06 L103.86,149.01 L104.80,147.89 L105.74,146.71 L106.68,145.47 L107.62,144.16 L108.56,142.79 L109.50,141.36 L110.44,139.88 L111.38,138.35 L112.32,136.76 L113.26,135.13 L114.20,133.45 L115.14,131.72 L116.07,129.95 L117.01,128.15 L117.95,126.30 L118.89,124.42 L119.83,122.51 L120.77,120.57 L121.71,118.59 L122.65,116.60 L123.59,114.58 L124.53,112.54 L125.47,110.48 L126.41,108.41 L127.35,106.32 L128.29,104.22 L129.23,102.12 L130.16,100.01 L131.10,97.89 L132.04,95.78 L132.98,93.67 L133.92,91.56 L134.86,89.46 L135.80,87.37 L136.74,85.29 L137.68,83.23 L138.62,81.19 L139.56,79.17 L140.50,77.17 L141.44,75.20 L142.38,73.26 L143.32,71.35 L144.26,69.48 L145.19,67.64 L146.13,65.85 L147.07,64.10 L148.01,62.39 L148.95,60.74 L149.89,59.13 L150.83,57.59 L151.77,56.10 L152.71,54.67 L153.65,53.31 L154.59,52.02 L155.53,50.79 L156.47,49.64 L157.41,48.57 L158.35,47.57 L159.29,46.66 L160.22,45.83 L161.16,45.10 L162.10,44.45 L163.04,43.91 L163.98,43.46 L164.92,43.11 L165.86,42.87 L166.80,42.74 L167.74,42.71 L168.68,42.81 L169.62,43.02 L170.56,43.35 L171.50,43.81 L172.44,44.40 L173.38,45.12 L174.32,45.97 L175.25,46.97 L176.19,48.10 L177.13,49.39 L178.07,50.82 L179.01,52.40 L179.95,54.14 L180.89,56.04 L181.83,58.10 L182.77,60.33 L183.71,62.73 L184.65,65.31 L185.59,68.06 L186.53,70.99 L187.47,74.11 L188.41,77.42 L189.35,80.92 L190.28,84.61 L191.22,88.51 L192.16,92.61 L193.10,96.92 L194.04,101.43 L194.98,106.17 L195.92,111.12 L196.86,116.29 L197.80,121.69" fill="none" stroke="#2a62c8" stroke-width="1.5" stroke-dasharray="1.4 0.35"/>
<path d="M47.50,25.50 L48.44,31.54 L49.38,37.43 L50.32,43.16 L51.26,48.72 L52.20,54.13 L53.14,59.39 L54.08,64.49 L55.02,69.44 L55.95,74.23 L56.89,78.87 L57.83,83.37 L58.77,87.71 L59.71,91.91 L60.65,95.96 L61.59,99.86 L62.53,103.62 L63.47,107.24 L64.41,110.72 L65.35,114.06 L66.29,117.25 L67.23,120.32 L68.17,123.24 L69.11,126.03 L70.05,128.69 L70.98,131.21 L71.92,133.61 L72.86,135.87 L73.80,138.01 L74.74,140.03 L75.68,141.91 L76.62,143.68 L77.56,145.32 L78.50,146.85 L79.44,148.26 L80.38,149.55 L81.32,150.72 L82.26,151.78 L83.20,152.73 L84.14,153.57 L85.08,154.31 L86.01,154.93 L86.95,155.45 L87.89,155.87 L88.83,156.19 L89.77,156.41 L90.71,156.53 L91.65,156.55 L92.59,156.48 L93.53,156.32 L94.47,156.07 L95.41,155.73 L96.35,155.30 L97.29,154.79 L98.23,154.19 L99.17,153.52 L100.11,152.77 L101.04,151.94 L101.98,151.03 L102.92,150.06 L103.86,149.01 L104.80,147.89 L105.74,146.71 L106.68,145.47 L107.62,144.16 L108.56,142.79 L109.50,141.36 L110.44,139.88 L111.38,138.35 L112.32,136.76 L113.26,135.13 L114.20,133.45 L115.14,131.72 L116.07,129.95 L117.01,128.15 L117.95,126.30 L118.89,124.42 L119.83,122.51 L120.77,120.57 L121.71,118.59 L122.65,116.60 L123.59,114.58 L124.53,112.54 L125.47,110.48 L126.41,108.41 L127.35,106.32 L128.29,104.22 L129.23,102.12 L130.16,100.01 L131.10,97.89 L132.04,95.78 L132.98,93.67 L133.92,91.56 L134.86,89.46 L135.80,87.37 L136.74,85.29 L137.68,83.23 L138.62,81.19 L139.56,79.17 L140.50,77.17 L141.44,75.20 L142.38,73.26 L143.32,71.35 L144.26,69.48 L145.19,67.64 L146.13,65.85 L147.07,64.10 L148.01,62.39 L148.95,60.74 L149.89,59.13 L150.83,57.59 L151.77,56.10 L152.71,54.67 L153.65,53.31 L154.59,52.02 L155.53,50.79 L156.47,49.64 L157.41,48.57 L158.35,47.57 L159.29,46.66 L160.22,45.83 L161.16,45.10 L162.10,44.45 L163.04,43.91 L163.98,43.46 L164.92,43.11 L165.86,42.87 L166.80,42.74 L167.74,42.71 L168.68,42.81 L169.62,43.02 L170.56,43.35 L171.50,43.81 L172.44,44.40 L173.38,45.12 L174.32,45.97 L175.25,46.97 L176.19,48.10 L177.13,49.39 L178.07,50.82 L179.01,52.40 L179.95,54.14 L180.89,56.04 L181.83,58.10 L182.77,60.33 L183.71,62.73 L184.65,65.31 L185.59,68.06 L186.53,70.99 L187.47,74.11 L188.41,77.42 L189.35,80.92 L190.28,84.61 L191.22,88.51 L192.16,92.61 L193.10,96.92 L194.04,101.43 L194.98,106.17 L195.92,111.12 L196.86,116.29 L197.80,121.69" fill="none" stroke="#2c3f9c" stroke-width="1.5" stroke-dasharray="1.4 0.35"/>
<path d="M47.50,25.50 L48.44,31.54 L49.38,37.43 L50.32,43.16 L51.26,48.72 L52.20,54.13 L53.14,59.39 L54.08,64.49 L55.02,69.44 L55.95,74.23 L56.89,78.87 L57.83,83.37 L58.77,87.71 L59.71,91.91 L60.65,95.96 L61.59,99.86 L62.53,103.62 L63.47,107.24 L64.41,110.72 L65.35,114.06 L66.29,117.25 L67.23,120.32 L68.17,123.24 L69.11,126.03 L70.05,128.69 L70.98,131.21 L71.92,133.61 L72.86,135.87 L73.80,138.01 L74.74,140.03 L75.68,141.91 L76.62,143.68 L77.56,145.32 L78.50,146.85 L79.44,148.26 L80.38,149.55 L81.32,150.72 L82.26,151.78 L83.20,152.73 L84.14,153.57 L85.08,154.31 L86.01,154.93 L86.95,155.45 L87.89,155.87 L88.83,156.19 L89.77,156.41 L90.71,156.53 L91.65,156.55 L92.59,156.48 L93.53,156.32 L94.47,156.07 L95.41,155.73 L96.35,155.30 L97.29,154.79 L98.23,154.19 L99.17,153.52 L100.11,152.77 L101.04,151.94 L101.98,151.03 L102.92,150.06 L103.86,149.01 L104.80,147.89 L105.74,146.71 L106.68,145.47 L107.62,144.16 L108.56,142.79 L109.50,141.36 L110.44,139.88 L111.38,138.35 L112.32,136.76 L113.26,135.13 L114.20,133.45 L115.14,131.72 L116.07,129.95 L117.01,128.15 L117.95,126.30 L118.89,124.42 L119.83,122.51 L120.77,120.57 L121.71,118.59 L122.65,116.60 L123.59,114.58 L124.53,112.54 L125.47,110.48 L126.41,108.41 L127.35,106.32 L128.29,104.22 L129.23,102.12 L130.16,100.01 L131.10,97.89 L132.04,95.78 L132.98,93.67 L133.92,91.56 L134.86,89.46 L135.80,87.37 L136.74,85.29 L137.68,83.23 L138.62,81.19 L139.56,79.17 L140.50,77.17 L141.44,75.20 L142.38,73.26 L143.32,71.35 L144.26,69.48 L145.19,67.64 L146.13,65.85 L147.07,64.10 L148.01,62.39 L148.95,60.74 L149.89,59.13 L150.83,57.59 L151.77,56.10 L152.71,54.67 L153.65,53.31 L154.59,52.02 L155.53,50.79 L156.47,49.64 L157.41,48.57 L158.35,47.57 L159.29,46.66 L160.22,45.83 L161.16,45.10 L162.10,44.45 L163.04,43.91 L163.98,43.46 L164.92,43.11 L165.86,42.87 L166.80,42.74 L167.74,42.71 L168.68,42.81 L169.62,43.02 L170.56,43.35 L171.50,43.81 L172.44,44.40 L173.38,45.12 L174.32,45.97 L175.25,46.97 L176.19,48.10 L177.13,49.39 L178.07,50.82 L179.01,52.40 L179.95,54.14 L180.89,56.04 L181.83,58.10 L182.77,60.33 L183.71,62.73 L184.65,65.31 L185.59,68.06 L186.53,70.99 L187.47,74.11 L188.41,77.42 L189.35,80.92 L190.28,84.61 L191.22,88.51 L192.16,92.61 L193.10,96.92 L194.04,101.43 L194.98,106.17 L195.92,111.12 L196.86,116.29 L197.80,121.69" fill="none" stroke="#2b3358" stroke-width="1.5" stroke-dasharray="1.4 0.35"/>
<line x1="89.6" y1="43.6" x2="157" y2="43.6" stroke="#777" stroke-width="1.2" stroke-dasharray="4 2.1"/>
<line x1="96.4" y1="157.3" x2="166" y2="157.3" stroke="#777" stroke-width="1.2" stroke-dasharray="4 2.1"/>
<line x1="128.4" y1="46" x2="128.4" y2="153" stroke="#888" stroke-width="1.6"/>
<polyline points="124.4,52 128.4,45.5 132.4,52" fill="none" stroke="#888" stroke-width="1.6"/>
<polyline points="124.4,147 128.4,153.5 132.4,147" fill="none" stroke="#888" stroke-width="1.6"/>
<text x="116.80" y="58.90" font-size="14.5" text-anchor="middle" fill="#333" font-family='"Liberation Serif", serif' >Δ</text>
<rect x="95" y="185.5" width="55.400000000000006" height="12.900000000000006" fill="#fff" stroke="#555" stroke-width="1"/>
<text x="122.70" y="195.70" font-size="9.6" text-anchor="middle" fill="#1a1a1a" font-family='"Liberation Sans", sans-serif' textLength="49" lengthAdjust="spacingAndGlyphs">–5 T to 5 T</text>
<rect x="47.5" y="25.5" width="150.3" height="176.5" fill="none" stroke="#555" stroke-width="1"/>
<line x1="47.50" y1="202.0" x2="47.50" y2="200.0" stroke="#555" stroke-width="0.8"/>
<line x1="47.50" y1="25.5" x2="47.50" y2="27.5" stroke="#555" stroke-width="0.8"/>
<line x1="85.08" y1="202.0" x2="85.08" y2="200.0" stroke="#555" stroke-width="0.8"/>
<line x1="85.08" y1="25.5" x2="85.08" y2="27.5" stroke="#555" stroke-width="0.8"/>
<line x1="122.65" y1="202.0" x2="122.65" y2="200.0" stroke="#555" stroke-width="0.8"/>
<line x1="122.65" y1="25.5" x2="122.65" y2="27.5" stroke="#555" stroke-width="0.8"/>
<line x1="160.23" y1="202.0" x2="160.23" y2="200.0" stroke="#555" stroke-width="0.8"/>
<line x1="160.23" y1="25.5" x2="160.23" y2="27.5" stroke="#555" stroke-width="0.8"/>
<line x1="197.80" y1="202.0" x2="197.80" y2="200.0" stroke="#555" stroke-width="0.8"/>
<line x1="197.80" y1="25.5" x2="197.80" y2="27.5" stroke="#555" stroke-width="0.8"/>
<line x1="47.5" y1="25.50" x2="49.5" y2="25.50" stroke="#555" stroke-width="0.8"/>
<line x1="197.8" y1="25.50" x2="195.8" y2="25.50" stroke="#555" stroke-width="0.8"/>
<line x1="47.5" y1="47.56" x2="49.5" y2="47.56" stroke="#555" stroke-width="0.8"/>
<line x1="197.8" y1="47.56" x2="195.8" y2="47.56" stroke="#555" stroke-width="0.8"/>
<line x1="47.5" y1="69.62" x2="49.5" y2="69.62" stroke="#555" stroke-width="0.8"/>
<line x1="197.8" y1="69.62" x2="195.8" y2="69.62" stroke="#555" stroke-width="0.8"/>
<line x1="47.5" y1="91.69" x2="49.5" y2="91.69" stroke="#555" stroke-width="0.8"/>
<line x1="197.8" y1="91.69" x2="195.8" y2="91.69" stroke="#555" stroke-width="0.8"/>
<line x1="47.5" y1="113.75" x2="49.5" y2="113.75" stroke="#555" stroke-width="0.8"/>
<line x1="197.8" y1="113.75" x2="195.8" y2="113.75" stroke="#555" stroke-width="0.8"/>
<line x1="47.5" y1="135.81" x2="49.5" y2="135.81" stroke="#555" stroke-width="0.8"/>
<line x1="197.8" y1="135.81" x2="195.8" y2="135.81" stroke="#555" stroke-width="0.8"/>
<line x1="47.5" y1="157.88" x2="49.5" y2="157.88" stroke="#555" stroke-width="0.8"/>
<line x1="197.8" y1="157.88" x2="195.8" y2="157.88" stroke="#555" stroke-width="0.8"/>
<line x1="47.5" y1="179.94" x2="49.5" y2="179.94" stroke="#555" stroke-width="0.8"/>
<line x1="197.8" y1="179.94" x2="195.8" y2="179.94" stroke="#555" stroke-width="0.8"/>
<line x1="47.5" y1="202.00" x2="49.5" y2="202.00" stroke="#555" stroke-width="0.8"/>
<line x1="197.8" y1="202.00" x2="195.8" y2="202.00" stroke="#555" stroke-width="0.8"/>
<text x="47.50" y="214.40" font-size="9.2" text-anchor="middle" fill="#333" font-family='"Liberation Sans", sans-serif' >-0.4</text>
<text x="85.08" y="214.40" font-size="9.2" text-anchor="middle" fill="#333" font-family='"Liberation Sans", sans-serif' >-0.2</text>
<text x="122.65" y="214.40" font-size="9.2" text-anchor="middle" fill="#333" font-family='"Liberation Sans", sans-serif' >0</text>
<text x="160.23" y="214.40" font-size="9.2" text-anchor="middle" fill="#333" font-family='"Liberation Sans", sans-serif' >0.2</text>
<text x="197.80" y="214.40" font-size="9.2" text-anchor="middle" fill="#333" font-family='"Liberation Sans", sans-serif' >0.4</text>
<text x="43.50" y="29.80" font-size="9.2" text-anchor="end" fill="#333" font-family='"Liberation Sans", sans-serif' >0.2</text>
<text x="43.50" y="51.86" font-size="9.2" text-anchor="end" fill="#333" font-family='"Liberation Sans", sans-serif' >0.15</text>
<text x="43.50" y="73.92" font-size="9.2" text-anchor="end" fill="#333" font-family='"Liberation Sans", sans-serif' >0.1</text>
<text x="43.50" y="95.99" font-size="9.2" text-anchor="end" fill="#333" font-family='"Liberation Sans", sans-serif' >0.05</text>
<text x="43.50" y="118.05" font-size="9.2" text-anchor="end" fill="#333" font-family='"Liberation Sans", sans-serif' >0</text>
<text x="43.50" y="140.11" font-size="9.2" text-anchor="end" fill="#333" font-family='"Liberation Sans", sans-serif' >-0.05</text>
<text x="43.50" y="162.18" font-size="9.2" text-anchor="end" fill="#333" font-family='"Liberation Sans", sans-serif' >-0.1</text>
<text x="43.50" y="184.24" font-size="9.2" text-anchor="end" fill="#333" font-family='"Liberation Sans", sans-serif' >-0.15</text>
<text x="43.50" y="206.30" font-size="9.2" text-anchor="end" fill="#333" font-family='"Liberation Sans", sans-serif' >-0.2</text>
<rect x="212" y="25.30" width="15.199999999999989" height="12.11" fill="#f9f814"/>
<rect x="212" y="37.11" width="15.199999999999989" height="12.11" fill="#f4e12a"/>
<rect x="212" y="48.91" width="15.199999999999989" height="12.11" fill="#f9c536"/>
<rect x="212" y="60.72" width="15.199999999999989" height="12.11" fill="#ebb52f"/>
<rect x="212" y="72.53" width="15.199999999999989" height="12.11" fill="#a8bf3a"/>
<rect x="212" y="84.33" width="15.199999999999989" height="12.11" fill="#52c270"/>
<rect x="212" y="96.14" width="15.199999999999989" height="12.11" fill="#22bea0"/>
<rect x="212" y="107.95" width="15.199999999999989" height="12.11" fill="#1cb8b8"/>
<rect x="212" y="119.75" width="15.199999999999989" height="12.11" fill="#18b0cc"/>
<rect x="212" y="131.56" width="15.199999999999989" height="12.11" fill="#1ea0e0"/>
<rect x="212" y="143.37" width="15.199999999999989" height="12.11" fill="#2a88f0"/>
<rect x="212" y="155.17" width="15.199999999999989" height="12.11" fill="#3a70f2"/>
<rect x="212" y="166.98" width="15.199999999999989" height="12.11" fill="#4a55ee"/>
<rect x="212" y="178.79" width="15.199999999999989" height="12.11" fill="#4238dc"/>
<rect x="212" y="190.59" width="15.199999999999989" height="11.81" fill="#3828a8"/>
<rect x="212" y="25.3" width="15.199999999999989" height="177.1" fill="none" stroke="#3a3a3a" stroke-width="0.9"/>
<text x="233.20" y="28.20" font-size="8.3" text-anchor="start" fill="#333" font-family='"Liberation Sans", sans-serif' >1.000</text>
<line x1="225.39999999999998" y1="37.95" x2="227.2" y2="37.95" stroke="#333" stroke-width="0.9"/>
<text x="233.20" y="40.85" font-size="8.3" text-anchor="start" fill="#333" font-family='"Liberation Sans", sans-serif' >0.710</text>
<line x1="225.39999999999998" y1="50.60" x2="227.2" y2="50.60" stroke="#333" stroke-width="0.9"/>
<text x="233.20" y="53.50" font-size="8.3" text-anchor="start" fill="#333" font-family='"Liberation Sans", sans-serif' >0.510</text>
<line x1="225.39999999999998" y1="63.25" x2="227.2" y2="63.25" stroke="#333" stroke-width="0.9"/>
<text x="233.20" y="66.15" font-size="8.3" text-anchor="start" fill="#333" font-family='"Liberation Sans", sans-serif' >0.370</text>
<line x1="225.39999999999998" y1="75.90" x2="227.2" y2="75.90" stroke="#333" stroke-width="0.9"/>
<text x="233.20" y="78.80" font-size="8.3" text-anchor="start" fill="#333" font-family='"Liberation Sans", sans-serif' >0.260</text>
<line x1="225.39999999999998" y1="88.55" x2="227.2" y2="88.55" stroke="#333" stroke-width="0.9"/>
<text x="233.20" y="91.45" font-size="8.3" text-anchor="start" fill="#333" font-family='"Liberation Sans", sans-serif' >0.190</text>
<line x1="225.39999999999998" y1="101.20" x2="227.2" y2="101.20" stroke="#333" stroke-width="0.9"/>
<text x="233.20" y="104.10" font-size="8.3" text-anchor="start" fill="#333" font-family='"Liberation Sans", sans-serif' >0.130</text>
<line x1="225.39999999999998" y1="113.85" x2="227.2" y2="113.85" stroke="#333" stroke-width="0.9"/>
<text x="233.20" y="116.75" font-size="8.3" text-anchor="start" fill="#333" font-family='"Liberation Sans", sans-serif' >0.095</text>
<line x1="225.39999999999998" y1="126.50" x2="227.2" y2="126.50" stroke="#333" stroke-width="0.9"/>
<text x="233.20" y="129.40" font-size="8.3" text-anchor="start" fill="#333" font-family='"Liberation Sans", sans-serif' >0.068</text>
<line x1="225.39999999999998" y1="139.15" x2="227.2" y2="139.15" stroke="#333" stroke-width="0.9"/>
<text x="233.20" y="142.05" font-size="8.3" text-anchor="start" fill="#333" font-family='"Liberation Sans", sans-serif' >0.049</text>
<line x1="225.39999999999998" y1="151.80" x2="227.2" y2="151.80" stroke="#333" stroke-width="0.9"/>
<text x="233.20" y="154.70" font-size="8.3" text-anchor="start" fill="#333" font-family='"Liberation Sans", sans-serif' >0.035</text>
<line x1="225.39999999999998" y1="164.45" x2="227.2" y2="164.45" stroke="#333" stroke-width="0.9"/>
<text x="233.20" y="167.35" font-size="8.3" text-anchor="start" fill="#333" font-family='"Liberation Sans", sans-serif' >0.025</text>
<line x1="225.39999999999998" y1="177.10" x2="227.2" y2="177.10" stroke="#333" stroke-width="0.9"/>
<text x="233.20" y="180.00" font-size="8.3" text-anchor="start" fill="#333" font-family='"Liberation Sans", sans-serif' >0.018</text>
<line x1="225.39999999999998" y1="189.75" x2="227.2" y2="189.75" stroke="#333" stroke-width="0.9"/>
<text x="233.20" y="192.65" font-size="8.3" text-anchor="start" fill="#333" font-family='"Liberation Sans", sans-serif' >0.013</text>
<text x="233.20" y="205.30" font-size="8.3" text-anchor="start" fill="#333" font-family='"Liberation Sans", sans-serif' >0.009</text>
<text x="211.50" y="16.50" font-size="10" text-anchor="start" fill="#222" font-family='"Liberation Sans", sans-serif' >T (K)</text>
<text x="123.40" y="17.1" font-size="10" text-anchor="middle" fill="#222" font-family='"Liberation Sans", sans-serif'>V<tspan font-size="8" dy="5">Gate</tspan><tspan dy="-5"> = –1.9V</tspan></text>
<text transform="translate(12.9,115.0) rotate(-90)" font-size="14.5" text-anchor="middle" fill="#222" font-family='"Liberation Sans", sans-serif'><tspan font-style="italic">d</tspan><tspan font-family='"Liberation Serif", serif' font-size="13.5">σ</tspan><tspan font-size="8.8" dy="4.6" font-style="italic">xx</tspan><tspan dy="-4.6">/</tspan><tspan font-style="italic">d</tspan><tspan font-family='"Liberation Serif", serif' font-size="13.5">σ</tspan><tspan font-size="8.8" dy="4.6" font-style="italic">xy</tspan></text>
<text x="93.3" y="230.6" font-size="14.5" fill="#222" font-family='"Liberation Sans", sans-serif'><tspan font-family='"Liberation Serif", serif' font-size="14.2">σ</tspan><tspan font-size="8.8" dy="5" font-style="italic">xy</tspan><tspan dy="-5" dx="7.2">(</tspan><tspan font-style="italic">e</tspan><tspan font-size="9" dy="-5.5">2</tspan><tspan dy="5.5" font-style="italic">/h</tspan>)</text>
<text x="0.80" y="11.90" font-size="14" text-anchor="start" fill="#222" font-family='"Liberation Sans", sans-serif' >(a)</text>
<line x1="348.88" y1="25.5" x2="348.88" y2="202.0" stroke="#e3e3e3" stroke-width="0.8"/>
<line x1="386.45" y1="25.5" x2="386.45" y2="202.0" stroke="#e3e3e3" stroke-width="0.8"/>
<line x1="424.03" y1="25.5" x2="424.03" y2="202.0" stroke="#e3e3e3" stroke-width="0.8"/>
<line x1="311.3" y1="47.56" x2="461.6" y2="47.56" stroke="#e3e3e3" stroke-width="0.8"/>
<line x1="311.3" y1="69.62" x2="461.6" y2="69.62" stroke="#e3e3e3" stroke-width="0.8"/>
<line x1="311.3" y1="91.69" x2="461.6" y2="91.69" stroke="#e3e3e3" stroke-width="0.8"/>
<line x1="311.3" y1="113.75" x2="461.6" y2="113.75" stroke="#e3e3e3" stroke-width="0.8"/>
<line x1="311.3" y1="135.81" x2="461.6" y2="135.81" stroke="#e3e3e3" stroke-width="0.8"/>
<line x1="311.3" y1="157.88" x2="461.6" y2="157.88" stroke="#e3e3e3" stroke-width="0.8"/>
<line x1="311.3" y1="179.94" x2="461.6" y2="179.94" stroke="#e3e3e3" stroke-width="0.8"/>
<path d="M311.30,63.89 L312.24,66.90 L313.18,69.82 L314.12,72.64 L315.06,75.36 L316.00,77.98 L316.94,80.51 L317.88,82.95 L318.81,85.30 L319.75,87.57 L320.69,89.75 L321.63,91.84 L322.57,93.85 L323.51,95.78 L324.45,97.63 L325.39,99.41 L326.33,101.11 L327.27,102.73 L328.21,104.29 L329.15,105.77 L330.09,107.18 L331.03,108.53 L331.97,109.81 L332.91,111.02 L333.85,112.18 L334.78,113.27 L335.72,114.30 L336.66,115.28 L337.60,116.20 L338.54,117.06 L339.48,117.88 L340.42,118.64 L341.36,119.35 L342.30,120.01 L343.24,120.62 L344.18,121.19 L345.12,121.72 L346.06,122.20 L347.00,122.64 L347.94,123.04 L348.88,123.41 L349.81,123.73 L350.75,124.02 L351.69,124.28 L352.63,124.50 L353.57,124.69 L354.51,124.85 L355.45,124.98 L356.39,125.09 L357.33,125.17 L358.27,125.22 L359.21,125.25 L360.15,125.26 L361.09,125.25 L362.03,125.21 L362.97,125.16 L363.91,125.09 L364.84,125.01 L365.78,124.91 L366.72,124.80 L367.66,124.67 L368.60,124.53 L369.54,124.39 L370.48,124.23 L371.42,124.06 L372.36,123.89 L373.30,123.72 L374.24,123.54 L375.18,123.35 L376.12,123.16 L377.06,122.98 L378.00,122.79 L378.94,122.60 L379.87,122.41 L380.81,122.23 L381.75,122.05 L382.69,121.88 L383.63,121.71 L384.57,121.55 L385.51,121.40 L386.45,121.25 L387.39,121.12 L388.33,120.99 L389.27,120.88 L390.21,120.78 L391.15,120.69 L392.09,120.62 L393.03,120.56 L393.97,120.52 L394.90,120.50 L395.84,120.49 L396.78,120.51 L397.72,120.54 L398.66,120.59 L399.60,120.66 L400.54,120.76 L401.48,120.88 L402.42,121.02 L403.36,121.18 L404.30,121.37 L405.24,121.59 L406.18,121.83 L407.12,122.10 L408.06,122.39 L409.00,122.72 L409.93,123.07 L410.87,123.46 L411.81,123.87 L412.75,124.31 L413.69,124.79 L414.63,125.30 L415.57,125.84 L416.51,126.41 L417.45,127.02 L418.39,127.67 L419.33,128.35 L420.27,129.06 L421.21,129.81 L422.15,130.60 L423.09,131.42 L424.02,132.28 L424.96,133.18 L425.90,134.12 L426.84,135.10 L427.78,136.12 L428.72,137.17 L429.66,138.27 L430.60,139.41 L431.54,140.59 L432.48,141.81 L433.42,143.08 L434.36,144.38 L435.30,145.73 L436.24,147.13 L437.18,148.56 L438.12,150.04 L439.06,151.57 L439.99,153.13 L440.93,154.75 L441.87,156.40 L442.81,158.11 L443.75,159.86 L444.69,161.65 L445.63,163.49 L446.57,165.38 L447.51,167.31 L448.45,169.29 L449.39,171.32 L450.33,173.39 L451.27,175.52 L452.21,177.68 L453.15,179.90 L454.09,182.16 L455.02,184.48 L455.96,186.83 L456.90,189.24 L457.84,191.70 L458.78,194.20 L459.72,196.75 L460.66,199.35 L461.60,202.00" fill="none" stroke="#f3ea48" stroke-width="2.0" stroke-dasharray="4.2 2.8" stroke-dashoffset="18.2" stroke-opacity="0.85"/>
<path d="M311.30,68.28 L312.24,71.73 L313.18,75.05 L314.12,78.25 L315.06,81.33 L316.00,84.29 L316.94,87.13 L317.88,89.87 L318.81,92.49 L319.75,95.01 L320.69,97.41 L321.63,99.72 L322.57,101.92 L323.51,104.03 L324.45,106.03 L325.39,107.94 L326.33,109.76 L327.27,111.49 L328.21,113.13 L329.15,114.68 L330.09,116.14 L331.03,117.53 L331.97,118.83 L332.91,120.06 L333.85,121.21 L334.78,122.28 L335.72,123.28 L336.66,124.21 L337.60,125.07 L338.54,125.87 L339.48,126.60 L340.42,127.26 L341.36,127.87 L342.30,128.42 L343.24,128.90 L344.18,129.34 L345.12,129.72 L346.06,130.05 L347.00,130.32 L347.94,130.55 L348.88,130.73 L349.81,130.87 L350.75,130.97 L351.69,131.02 L352.63,131.04 L353.57,131.01 L354.51,130.95 L355.45,130.86 L356.39,130.73 L357.33,130.57 L358.27,130.39 L359.21,130.17 L360.15,129.93 L361.09,129.67 L362.03,129.38 L362.97,129.08 L363.91,128.75 L364.84,128.41 L365.78,128.05 L366.72,127.68 L367.66,127.30 L368.60,126.91 L369.54,126.51 L370.48,126.10 L371.42,125.69 L372.36,125.27 L373.30,124.86 L374.24,124.44 L375.18,124.03 L376.12,123.61 L377.06,123.21 L378.00,122.81 L378.94,122.41 L379.87,122.03 L380.81,121.65 L381.75,121.28 L382.69,120.93 L383.63,120.58 L384.57,120.26 L385.51,119.94 L386.45,119.64 L387.39,119.35 L388.33,119.08 L389.27,118.83 L390.21,118.60 L391.15,118.38 L392.09,118.18 L393.03,118.00 L393.97,117.85 L394.90,117.71 L395.84,117.59 L396.78,117.50 L397.72,117.43 L398.66,117.39 L399.60,117.37 L400.54,117.37 L401.48,117.40 L402.42,117.46 L403.36,117.54 L404.30,117.66 L405.24,117.80 L406.18,117.97 L407.12,118.17 L408.06,118.41 L409.00,118.68 L409.93,118.97 L410.87,119.31 L411.81,119.67 L412.75,120.08 L413.69,120.52 L414.63,120.99 L415.57,121.50 L416.51,122.05 L417.45,122.64 L418.39,123.26 L419.33,123.93 L420.27,124.64 L421.21,125.38 L422.15,126.17 L423.09,127.00 L424.02,127.88 L424.96,128.79 L425.90,129.75 L426.84,130.75 L427.78,131.80 L428.72,132.89 L429.66,134.03 L430.60,135.22 L431.54,136.45 L432.48,137.72 L433.42,139.05 L434.36,140.42 L435.30,141.84 L436.24,143.30 L437.18,144.82 L438.12,146.38 L439.06,148.00 L439.99,149.66 L440.93,151.37 L441.87,153.13 L442.81,154.95 L443.75,156.81 L444.69,158.72 L445.63,160.69 L446.57,162.70 L447.51,164.77 L448.45,166.89 L449.39,169.06 L450.33,171.28 L451.27,173.55 L452.21,175.88 L453.15,178.25 L454.09,180.68 L455.02,183.17 L455.96,185.70 L456.90,188.29 L457.84,190.92 L458.78,193.61 L459.72,196.36 L460.66,199.15 L461.60,202.00" fill="none" stroke="#f1df46" stroke-width="2.0" stroke-dasharray="4.2 2.8" stroke-dashoffset="16.9" stroke-opacity="0.85"/>
<path d="M311.30,73.69 L312.24,77.66 L313.18,81.48 L314.12,85.15 L315.06,88.68 L316.00,92.05 L316.94,95.29 L317.88,98.38 L318.81,101.34 L319.75,104.16 L320.69,106.86 L321.63,109.42 L322.57,111.86 L323.51,114.18 L324.45,116.38 L325.39,118.46 L326.33,120.42 L327.27,122.28 L328.21,124.02 L329.15,125.66 L330.09,127.19 L331.03,128.63 L331.97,129.96 L332.91,131.20 L333.85,132.34 L334.78,133.39 L335.72,134.36 L336.66,135.23 L337.60,136.03 L338.54,136.74 L339.48,137.37 L340.42,137.92 L341.36,138.41 L342.30,138.81 L343.24,139.15 L344.18,139.43 L345.12,139.63 L346.06,139.77 L347.00,139.86 L347.94,139.88 L348.88,139.85 L349.81,139.76 L350.75,139.63 L351.69,139.44 L352.63,139.20 L353.57,138.92 L354.51,138.60 L355.45,138.23 L356.39,137.83 L357.33,137.39 L358.27,136.91 L359.21,136.41 L360.15,135.87 L361.09,135.31 L362.03,134.71 L362.97,134.10 L363.91,133.46 L364.84,132.81 L365.78,132.14 L366.72,131.45 L367.66,130.75 L368.60,130.04 L369.54,129.32 L370.48,128.60 L371.42,127.87 L372.36,127.14 L373.30,126.41 L374.24,125.68 L375.18,124.96 L376.12,124.24 L377.06,123.53 L378.00,122.83 L378.94,122.14 L379.87,121.47 L380.81,120.80 L381.75,120.15 L382.69,119.52 L383.63,118.91 L384.57,118.31 L385.51,117.73 L386.45,117.17 L387.39,116.63 L388.33,116.11 L389.27,115.62 L390.21,115.15 L391.15,114.70 L392.09,114.28 L393.03,113.88 L393.97,113.50 L394.90,113.16 L395.84,112.84 L396.78,112.55 L397.72,112.29 L398.66,112.06 L399.60,111.86 L400.54,111.69 L401.48,111.55 L402.42,111.45 L403.36,111.38 L404.30,111.34 L405.24,111.35 L406.18,111.38 L407.12,111.46 L408.06,111.58 L409.00,111.73 L409.93,111.92 L410.87,112.16 L411.81,112.44 L412.75,112.76 L413.69,113.12 L414.63,113.53 L415.57,113.98 L416.51,114.48 L417.45,115.02 L418.39,115.62 L419.33,116.26 L420.27,116.94 L421.21,117.68 L422.15,118.47 L423.09,119.31 L424.02,120.19 L424.96,121.13 L425.90,122.13 L426.84,123.17 L427.78,124.27 L428.72,125.42 L429.66,126.63 L430.60,127.89 L431.54,129.20 L432.48,130.57 L433.42,132.00 L434.36,133.48 L435.30,135.02 L436.24,136.62 L437.18,138.27 L438.12,139.98 L439.06,141.75 L439.99,143.58 L440.93,145.47 L441.87,147.41 L442.81,149.41 L443.75,151.48 L444.69,153.60 L445.63,155.78 L446.57,158.02 L447.51,160.32 L448.45,162.68 L449.39,165.10 L450.33,167.58 L451.27,170.12 L452.21,172.72 L453.15,175.38 L454.09,178.09 L455.02,180.87 L455.96,183.71 L456.90,186.61 L457.84,189.57 L458.78,192.59 L459.72,195.67 L460.66,198.80 L461.60,202.00" fill="none" stroke="#efd048" stroke-width="2.0" stroke-dasharray="4.2 2.8" stroke-dashoffset="15.6" stroke-opacity="0.85"/>
<path d="M311.30,80.45 L312.24,85.09 L313.18,89.53 L314.12,93.79 L315.06,97.87 L316.00,101.76 L316.94,105.48 L317.88,109.03 L318.81,112.41 L319.75,115.62 L320.69,118.67 L321.63,121.56 L322.57,124.30 L323.51,126.88 L324.45,129.32 L325.39,131.61 L326.33,133.76 L327.27,135.78 L328.21,137.66 L329.15,139.41 L330.09,141.03 L331.03,142.52 L331.97,143.89 L332.91,145.15 L333.85,146.29 L334.78,147.32 L335.72,148.24 L336.66,149.05 L337.60,149.76 L338.54,150.38 L339.48,150.89 L340.42,151.31 L341.36,151.64 L342.30,151.88 L343.24,152.04 L344.18,152.12 L345.12,152.11 L346.06,152.04 L347.00,151.88 L347.94,151.66 L348.88,151.37 L349.81,151.01 L350.75,150.59 L351.69,150.11 L352.63,149.57 L353.57,148.98 L354.51,148.34 L355.45,147.65 L356.39,146.91 L357.33,146.13 L358.27,145.30 L359.21,144.44 L360.15,143.54 L361.09,142.61 L362.03,141.64 L362.97,140.65 L363.91,139.63 L364.84,138.59 L365.78,137.52 L366.72,136.44 L367.66,135.34 L368.60,134.23 L369.54,133.11 L370.48,131.98 L371.42,130.84 L372.36,129.69 L373.30,128.55 L374.24,127.40 L375.18,126.26 L376.12,125.12 L377.06,123.99 L378.00,122.87 L378.94,121.76 L379.87,120.66 L380.81,119.57 L381.75,118.50 L382.69,117.45 L383.63,116.42 L384.57,115.40 L385.51,114.41 L386.45,113.44 L387.39,112.50 L388.33,111.58 L389.27,110.69 L390.21,109.83 L391.15,109.00 L392.09,108.19 L393.03,107.43 L393.97,106.69 L394.90,105.99 L395.84,105.32 L396.78,104.70 L397.72,104.11 L398.66,103.56 L399.60,103.05 L400.54,102.58 L401.48,102.16 L402.42,101.77 L403.36,101.44 L404.30,101.15 L405.24,100.91 L406.18,100.72 L407.12,100.57 L408.06,100.48 L409.00,100.44 L409.93,100.45 L410.87,100.52 L411.81,100.64 L412.75,100.82 L413.69,101.05 L414.63,101.34 L415.57,101.69 L416.51,102.10 L417.45,102.57 L418.39,103.10 L419.33,103.69 L420.27,104.35 L421.21,105.06 L422.15,105.84 L423.09,106.69 L424.02,107.60 L424.96,108.58 L425.90,109.62 L426.84,110.73 L427.78,111.91 L428.72,113.16 L429.66,114.48 L430.60,115.86 L431.54,117.31 L432.48,118.84 L433.42,120.43 L434.36,122.10 L435.30,123.84 L436.24,125.65 L437.18,127.53 L438.12,129.48 L439.06,131.50 L439.99,133.60 L440.93,135.77 L441.87,138.01 L442.81,140.33 L443.75,142.72 L444.69,145.18 L445.63,147.72 L446.57,150.33 L447.51,153.01 L448.45,155.77 L449.39,158.59 L450.33,161.50 L451.27,164.47 L452.21,167.52 L453.15,170.65 L454.09,173.84 L455.02,177.11 L455.96,180.45 L456.90,183.86 L457.84,187.35 L458.78,190.90 L459.72,194.53 L460.66,198.23 L461.60,202.00" fill="none" stroke="#ecc248" stroke-width="2.0" stroke-dasharray="4.2 2.8" stroke-dashoffset="14.3" stroke-opacity="0.85"/>
<path d="M311.30,88.22 L312.24,93.62 L313.18,98.79 L314.12,103.72 L315.06,108.44 L316.00,112.93 L316.94,117.21 L317.88,121.27 L318.81,125.13 L319.75,128.79 L320.69,132.25 L321.63,135.52 L322.57,138.60 L323.51,141.49 L324.45,144.21 L325.39,146.74 L326.33,149.11 L327.27,151.31 L328.21,153.34 L329.15,155.22 L330.09,156.94 L331.03,158.51 L331.97,159.93 L332.91,161.20 L333.85,162.34 L334.78,163.34 L335.72,164.22 L336.66,164.96 L337.60,165.58 L338.54,166.07 L339.48,166.46 L340.42,166.72 L341.36,166.88 L342.30,166.94 L343.24,166.89 L344.18,166.74 L345.12,166.50 L346.06,166.16 L347.00,165.74 L347.94,165.23 L348.88,164.64 L349.81,163.98 L350.75,163.24 L351.69,162.42 L352.63,161.54 L353.57,160.60 L354.51,159.59 L355.45,158.53 L356.39,157.41 L357.33,156.23 L358.27,155.01 L359.21,153.74 L360.15,152.43 L361.09,151.07 L362.03,149.68 L362.97,148.26 L363.91,146.80 L364.84,145.31 L365.78,143.80 L366.72,142.27 L367.66,140.71 L368.60,139.13 L369.54,137.54 L370.48,135.93 L371.42,134.32 L372.36,132.70 L373.30,131.07 L374.24,129.43 L375.18,127.80 L376.12,126.17 L377.06,124.54 L378.00,122.92 L378.94,121.30 L379.87,119.70 L380.81,118.11 L381.75,116.54 L382.69,114.98 L383.63,113.44 L384.57,111.93 L385.51,110.44 L386.45,108.98 L387.39,107.54 L388.33,106.14 L389.27,104.76 L390.21,103.43 L391.15,102.13 L392.09,100.86 L393.03,99.64 L393.97,98.46 L394.90,97.33 L395.84,96.24 L396.78,95.20 L397.72,94.21 L398.66,93.26 L399.60,92.38 L400.54,91.54 L401.48,90.76 L402.42,90.04 L403.36,89.38 L404.30,88.78 L405.24,88.24 L406.18,87.76 L407.12,87.35 L408.06,87.00 L409.00,86.73 L409.93,86.51 L410.87,86.37 L411.81,86.30 L412.75,86.30 L413.69,86.38 L414.63,86.52 L415.57,86.75 L416.51,87.04 L417.45,87.42 L418.39,87.87 L419.33,88.41 L420.27,89.02 L421.21,89.71 L422.15,90.48 L423.09,91.34 L424.02,92.28 L424.96,93.30 L425.90,94.41 L426.84,95.60 L427.78,96.87 L428.72,98.24 L429.66,99.69 L430.60,101.22 L431.54,102.85 L432.48,104.56 L433.42,106.36 L434.36,108.24 L435.30,110.22 L436.24,112.29 L437.18,114.44 L438.12,116.69 L439.06,119.02 L439.99,121.45 L440.93,123.97 L441.87,126.57 L442.81,129.27 L443.75,132.06 L444.69,134.93 L445.63,137.90 L446.57,140.96 L447.51,144.11 L448.45,147.35 L449.39,150.68 L450.33,154.10 L451.27,157.60 L452.21,161.20 L453.15,164.89 L454.09,168.66 L455.02,172.53 L455.96,176.48 L456.90,180.52 L457.84,184.64 L458.78,188.85 L459.72,193.15 L460.66,197.53 L461.60,202.00" fill="none" stroke="#e8b848" stroke-width="2.0" stroke-dasharray="4.2 2.8" stroke-dashoffset="13.0" stroke-opacity="0.85"/>
<path d="M311.30,93.63 L312.24,99.56 L313.18,105.23 L314.12,110.63 L315.06,115.79 L316.00,120.70 L316.94,125.36 L317.88,129.79 L318.81,133.98 L319.75,137.95 L320.69,141.70 L321.63,145.23 L322.57,148.54 L323.51,151.65 L324.45,154.56 L325.39,157.26 L326.33,159.78 L327.27,162.10 L328.21,164.25 L329.15,166.21 L330.09,168.00 L331.03,169.62 L331.97,171.07 L332.91,172.36 L333.85,173.49 L334.78,174.48 L335.72,175.31 L336.66,176.00 L337.60,176.56 L338.54,176.97 L339.48,177.26 L340.42,177.42 L341.36,177.46 L342.30,177.37 L343.24,177.18 L344.18,176.87 L345.12,176.46 L346.06,175.95 L347.00,175.33 L347.94,174.62 L348.88,173.83 L349.81,172.94 L350.75,171.97 L351.69,170.92 L352.63,169.80 L353.57,168.60 L354.51,167.34 L355.45,166.01 L356.39,164.62 L357.33,163.17 L358.27,161.66 L359.21,160.10 L360.15,158.50 L361.09,156.85 L362.03,155.16 L362.97,153.43 L363.91,151.66 L364.84,149.87 L365.78,148.04 L366.72,146.19 L367.66,144.31 L368.60,142.42 L369.54,140.50 L370.48,138.57 L371.42,136.63 L372.36,134.68 L373.30,132.73 L374.24,130.77 L375.18,128.81 L376.12,126.85 L377.06,124.89 L378.00,122.94 L378.94,121.01 L379.87,119.08 L380.81,117.17 L381.75,115.28 L382.69,113.40 L383.63,111.55 L384.57,109.72 L385.51,107.93 L386.45,106.16 L387.39,104.42 L388.33,102.72 L389.27,101.05 L390.21,99.43 L391.15,97.84 L392.09,96.30 L393.03,94.81 L393.97,93.36 L394.90,91.97 L395.84,90.63 L396.78,89.34 L397.72,88.11 L398.66,86.93 L399.60,85.82 L400.54,84.77 L401.48,83.78 L402.42,82.85 L403.36,82.00 L404.30,81.21 L405.24,80.49 L406.18,79.85 L407.12,79.28 L408.06,78.78 L409.00,78.36 L409.93,78.01 L410.87,77.75 L411.81,77.56 L412.75,77.46 L413.69,77.44 L414.63,77.50 L415.57,77.65 L416.51,77.88 L417.45,78.20 L418.39,78.61 L419.33,79.11 L420.27,79.70 L421.21,80.38 L422.15,81.15 L423.09,82.01 L424.02,82.97 L424.96,84.02 L425.90,85.16 L426.84,86.40 L427.78,87.74 L428.72,89.17 L429.66,90.70 L430.60,92.33 L431.54,94.06 L432.48,95.88 L433.42,97.81 L434.36,99.83 L435.30,101.95 L436.24,104.18 L437.18,106.50 L438.12,108.92 L439.06,111.45 L439.99,114.07 L440.93,116.80 L441.87,119.63 L442.81,122.55 L443.75,125.58 L444.69,128.71 L445.63,131.94 L446.57,135.28 L447.51,138.71 L448.45,142.24 L449.39,145.87 L450.33,149.60 L451.27,153.43 L452.21,157.36 L453.15,161.39 L454.09,165.52 L455.02,169.74 L455.96,174.07 L456.90,178.48 L457.84,183.00 L458.78,187.61 L459.72,192.31 L460.66,197.11 L461.60,202.00" fill="none" stroke="#c8d860" stroke-width="2.0" stroke-dasharray="4.2 2.8" stroke-dashoffset="11.7" stroke-opacity="0.85"/>
<path d="M311.30,94.98 L312.24,101.05 L313.18,106.84 L314.12,112.36 L315.06,117.63 L316.00,122.64 L316.94,127.40 L317.88,131.92 L318.81,136.20 L319.75,140.24 L320.69,144.06 L321.63,147.65 L322.57,151.03 L323.51,154.19 L324.45,157.14 L325.39,159.89 L326.33,162.44 L327.27,164.80 L328.21,166.97 L329.15,168.95 L330.09,170.76 L331.03,172.39 L331.97,173.85 L332.91,175.14 L333.85,176.28 L334.78,177.25 L335.72,178.08 L336.66,178.76 L337.60,179.29 L338.54,179.69 L339.48,179.95 L340.42,180.08 L341.36,180.08 L342.30,179.97 L343.24,179.73 L344.18,179.39 L345.12,178.93 L346.06,178.37 L347.00,177.71 L347.94,176.95 L348.88,176.09 L349.81,175.15 L350.75,174.12 L351.69,173.01 L352.63,171.83 L353.57,170.56 L354.51,169.23 L355.45,167.83 L356.39,166.37 L357.33,164.85 L358.27,163.27 L359.21,161.64 L360.15,159.96 L361.09,158.24 L362.03,156.47 L362.97,154.66 L363.91,152.82 L364.84,150.94 L365.78,149.04 L366.72,147.10 L367.66,145.15 L368.60,143.17 L369.54,141.18 L370.48,139.17 L371.42,137.16 L372.36,135.13 L373.30,133.10 L374.24,131.06 L375.18,129.03 L376.12,127.00 L377.06,124.97 L378.00,122.95 L378.94,120.94 L379.87,118.95 L380.81,116.97 L381.75,115.02 L382.69,113.08 L383.63,111.17 L384.57,109.28 L385.51,107.42 L386.45,105.60 L387.39,103.81 L388.33,102.05 L389.27,100.33 L390.21,98.66 L391.15,97.02 L392.09,95.44 L393.03,93.90 L393.97,92.41 L394.90,90.97 L395.84,89.58 L396.78,88.25 L397.72,86.98 L398.66,85.77 L399.60,84.62 L400.54,83.53 L401.48,82.50 L402.42,81.55 L403.36,80.66 L404.30,79.84 L405.24,79.10 L406.18,78.42 L407.12,77.83 L408.06,77.30 L409.00,76.86 L409.93,76.49 L410.87,76.21 L411.81,76.00 L412.75,75.88 L413.69,75.85 L414.63,75.90 L415.57,76.03 L416.51,76.26 L417.45,76.57 L418.39,76.97 L419.33,77.46 L420.27,78.05 L421.21,78.72 L422.15,79.49 L423.09,80.36 L424.02,81.32 L424.96,82.37 L425.90,83.53 L426.84,84.78 L427.78,86.12 L428.72,87.57 L429.66,89.11 L430.60,90.76 L431.54,92.50 L432.48,94.35 L433.42,96.29 L434.36,98.34 L435.30,100.49 L436.24,102.74 L437.18,105.10 L438.12,107.55 L439.06,110.11 L439.99,112.77 L440.93,115.53 L441.87,118.40 L442.81,121.37 L443.75,124.44 L444.69,127.61 L445.63,130.89 L446.57,134.27 L447.51,137.75 L448.45,141.34 L449.39,145.02 L450.33,148.81 L451.27,152.70 L452.21,156.69 L453.15,160.78 L454.09,164.96 L455.02,169.25 L455.96,173.64 L456.90,178.12 L457.84,182.71 L458.78,187.39 L459.72,192.16 L460.66,197.03 L461.60,202.00" fill="none" stroke="#98d88e" stroke-width="2.0" stroke-dasharray="4.2 2.8" stroke-dashoffset="10.4" stroke-opacity="0.85"/>
<path d="M311.30,96.00 L312.24,102.16 L313.18,108.04 L314.12,113.66 L315.06,119.00 L316.00,124.09 L316.94,128.93 L317.88,133.51 L318.81,137.85 L319.75,141.96 L320.69,145.83 L321.63,149.47 L322.57,152.89 L323.51,156.09 L324.45,159.08 L325.39,161.86 L326.33,164.44 L327.27,166.82 L328.21,169.01 L329.15,171.01 L330.09,172.83 L331.03,174.47 L331.97,175.94 L332.91,177.23 L333.85,178.37 L334.78,179.34 L335.72,180.16 L336.66,180.83 L337.60,181.35 L338.54,181.73 L339.48,181.97 L340.42,182.08 L341.36,182.06 L342.30,181.92 L343.24,181.66 L344.18,181.28 L345.12,180.80 L346.06,180.20 L347.00,179.50 L347.94,178.70 L348.88,177.81 L349.81,176.83 L350.75,175.76 L351.69,174.60 L352.63,173.37 L353.57,172.06 L354.51,170.68 L355.45,169.23 L356.39,167.72 L357.33,166.14 L358.27,164.51 L359.21,162.83 L360.15,161.09 L361.09,159.31 L362.03,157.49 L362.97,155.62 L363.91,153.72 L364.84,151.78 L365.78,149.82 L366.72,147.83 L367.66,145.81 L368.60,143.78 L369.54,141.73 L370.48,139.66 L371.42,137.58 L372.36,135.49 L373.30,133.40 L374.24,131.31 L375.18,129.21 L376.12,127.12 L377.06,125.03 L378.00,122.96 L378.94,120.89 L379.87,118.84 L380.81,116.80 L381.75,114.79 L382.69,112.79 L383.63,110.83 L384.57,108.88 L385.51,106.97 L386.45,105.09 L387.39,103.25 L388.33,101.44 L389.27,99.67 L390.21,97.94 L391.15,96.26 L392.09,94.62 L393.03,93.03 L393.97,91.50 L394.90,90.01 L395.84,88.58 L396.78,87.21 L397.72,85.90 L398.66,84.64 L399.60,83.45 L400.54,82.33 L401.48,81.27 L402.42,80.27 L403.36,79.35 L404.30,78.50 L405.24,77.73 L406.18,77.02 L407.12,76.40 L408.06,75.85 L409.00,75.38 L409.93,74.99 L410.87,74.68 L411.81,74.46 L412.75,74.32 L413.69,74.27 L414.63,74.30 L415.57,74.43 L416.51,74.64 L417.45,74.94 L418.39,75.33 L419.33,75.82 L420.27,76.40 L421.21,77.08 L422.15,77.84 L423.09,78.71 L424.02,79.67 L424.96,80.73 L425.90,81.89 L426.84,83.15 L427.78,84.51 L428.72,85.97 L429.66,87.53 L430.60,89.19 L431.54,90.95 L432.48,92.82 L433.42,94.79 L434.36,96.86 L435.30,99.03 L436.24,101.31 L437.18,103.69 L438.12,106.18 L439.06,108.77 L439.99,111.47 L440.93,114.27 L441.87,117.17 L442.81,120.18 L443.75,123.30 L444.69,126.52 L445.63,129.84 L446.57,133.27 L447.51,136.80 L448.45,140.44 L449.39,144.17 L450.33,148.02 L451.27,151.96 L452.21,156.01 L453.15,160.16 L454.09,164.41 L455.02,168.76 L455.96,173.21 L456.90,177.77 L457.84,182.42 L458.78,187.17 L459.72,192.01 L460.66,196.96 L461.60,202.00" fill="none" stroke="#5ecfae" stroke-width="2.0" stroke-dasharray="4.2 2.8" stroke-dashoffset="9.1" stroke-opacity="0.85"/>
<path d="M311.30,96.51 L312.24,102.72 L313.18,108.65 L314.12,114.30 L315.06,119.69 L316.00,124.82 L316.94,129.69 L317.88,134.31 L318.81,138.68 L319.75,142.82 L320.69,146.71 L321.63,150.38 L322.57,153.82 L323.51,157.04 L324.45,160.05 L325.39,162.85 L326.33,165.44 L327.27,167.84 L328.21,170.03 L329.15,172.04 L330.09,173.87 L331.03,175.51 L331.97,176.98 L332.91,178.28 L333.85,179.41 L334.78,180.38 L335.72,181.20 L336.66,181.86 L337.60,182.38 L338.54,182.75 L339.48,182.98 L340.42,183.08 L341.36,183.05 L342.30,182.90 L343.24,182.62 L344.18,182.23 L345.12,181.73 L346.06,181.12 L347.00,180.40 L347.94,179.58 L348.88,178.67 L349.81,177.67 L350.75,176.57 L351.69,175.40 L352.63,174.14 L353.57,172.81 L354.51,171.40 L355.45,169.93 L356.39,168.39 L357.33,166.79 L358.27,165.13 L359.21,163.42 L360.15,161.66 L361.09,159.85 L362.03,157.99 L362.97,156.10 L363.91,154.17 L364.84,152.21 L365.78,150.21 L366.72,148.19 L367.66,146.15 L368.60,144.08 L369.54,142.00 L370.48,139.90 L371.42,137.79 L372.36,135.68 L373.30,133.55 L374.24,131.43 L375.18,129.30 L376.12,127.18 L377.06,125.07 L378.00,122.96 L378.94,120.86 L379.87,118.78 L380.81,116.72 L381.75,114.67 L382.69,112.65 L383.63,110.65 L384.57,108.68 L385.51,106.75 L386.45,104.84 L387.39,102.97 L388.33,101.13 L389.27,99.34 L390.21,97.58 L391.15,95.88 L392.09,94.22 L393.03,92.60 L393.97,91.04 L394.90,89.53 L395.84,88.08 L396.78,86.69 L397.72,85.35 L398.66,84.08 L399.60,82.87 L400.54,81.72 L401.48,80.65 L402.42,79.64 L403.36,78.70 L404.30,77.83 L405.24,77.04 L406.18,76.32 L407.12,75.68 L408.06,75.12 L409.00,74.64 L409.93,74.24 L410.87,73.92 L411.81,73.69 L412.75,73.54 L413.69,73.48 L414.63,73.51 L415.57,73.62 L416.51,73.83 L417.45,74.13 L418.39,74.52 L419.33,75.00 L420.27,75.58 L421.21,76.25 L422.15,77.02 L423.09,77.89 L424.02,78.85 L424.96,79.91 L425.90,81.08 L426.84,82.34 L427.78,83.70 L428.72,85.17 L429.66,86.74 L430.60,88.40 L431.54,90.18 L432.48,92.05 L433.42,94.03 L434.36,96.11 L435.30,98.30 L436.24,100.59 L437.18,102.99 L438.12,105.50 L439.06,108.10 L439.99,110.82 L440.93,113.64 L441.87,116.56 L442.81,119.59 L443.75,122.73 L444.69,125.97 L445.63,129.31 L446.57,132.77 L447.51,136.32 L448.45,139.98 L449.39,143.75 L450.33,147.62 L451.27,151.59 L452.21,155.67 L453.15,159.85 L454.09,164.13 L455.02,168.52 L455.96,173.00 L456.90,177.59 L457.84,182.27 L458.78,187.06 L459.72,191.94 L460.66,196.92 L461.60,202.00" fill="none" stroke="#48cad0" stroke-width="1.7"/>
<path d="M311.30,96.84 L312.24,103.09 L313.18,109.05 L314.12,114.74 L315.06,120.15 L316.00,125.31 L316.94,130.20 L317.88,134.84 L318.81,139.24 L319.75,143.39 L320.69,147.30 L321.63,150.99 L322.57,154.44 L323.51,157.68 L324.45,160.70 L325.39,163.51 L326.33,166.11 L327.27,168.51 L328.21,170.72 L329.15,172.73 L330.09,174.56 L331.03,176.21 L331.97,177.68 L332.91,178.98 L333.85,180.11 L334.78,181.08 L335.72,181.89 L336.66,182.55 L337.60,183.06 L338.54,183.43 L339.48,183.66 L340.42,183.75 L341.36,183.71 L342.30,183.55 L343.24,183.27 L344.18,182.86 L345.12,182.35 L346.06,181.73 L347.00,181.00 L347.94,180.17 L348.88,179.24 L349.81,178.22 L350.75,177.12 L351.69,175.93 L352.63,174.65 L353.57,173.31 L354.51,171.88 L355.45,170.39 L356.39,168.84 L357.33,167.22 L358.27,165.54 L359.21,163.81 L360.15,162.03 L361.09,160.20 L362.03,158.33 L362.97,156.42 L363.91,154.47 L364.84,152.49 L365.78,150.47 L366.72,148.43 L367.66,146.37 L368.60,144.28 L369.54,142.18 L370.48,140.06 L371.42,137.94 L372.36,135.80 L373.30,133.66 L374.24,131.51 L375.18,129.37 L376.12,127.22 L377.06,125.09 L378.00,122.96 L378.94,120.85 L379.87,118.75 L380.81,116.66 L381.75,114.60 L382.69,112.56 L383.63,110.54 L384.57,108.55 L385.51,106.59 L386.45,104.67 L387.39,102.78 L388.33,100.93 L389.27,99.12 L390.21,97.35 L391.15,95.62 L392.09,93.94 L393.03,92.32 L393.97,90.74 L394.90,89.22 L395.84,87.75 L396.78,86.34 L397.72,84.99 L398.66,83.70 L399.60,82.48 L400.54,81.32 L401.48,80.23 L402.42,79.21 L403.36,78.26 L404.30,77.39 L405.24,76.58 L406.18,75.86 L407.12,75.21 L408.06,74.64 L409.00,74.15 L409.93,73.74 L410.87,73.41 L411.81,73.17 L412.75,73.02 L413.69,72.95 L414.63,72.97 L415.57,73.09 L416.51,73.29 L417.45,73.58 L418.39,73.97 L419.33,74.45 L420.27,75.03 L421.21,75.70 L422.15,76.47 L423.09,77.34 L424.02,78.30 L424.96,79.37 L425.90,80.53 L426.84,81.80 L427.78,83.17 L428.72,84.64 L429.66,86.21 L430.60,87.88 L431.54,89.66 L432.48,91.54 L433.42,93.53 L434.36,95.62 L435.30,97.82 L436.24,100.12 L437.18,102.52 L438.12,105.04 L439.06,107.66 L439.99,110.38 L440.93,113.21 L441.87,116.15 L442.81,119.20 L443.75,122.35 L444.69,125.60 L445.63,128.96 L446.57,132.43 L447.51,136.00 L448.45,139.68 L449.39,143.47 L450.33,147.36 L451.27,151.35 L452.21,155.44 L453.15,159.64 L454.09,163.95 L455.02,168.35 L455.96,172.86 L456.90,177.47 L457.84,182.18 L458.78,186.98 L459.72,191.89 L460.66,196.90 L461.60,202.00" fill="none" stroke="#40c6e0" stroke-width="1.7"/>
<path d="M311.30,97.01 L312.24,103.27 L313.18,109.25 L314.12,114.95 L315.06,120.38 L316.00,125.55 L316.94,130.46 L317.88,135.11 L318.81,139.51 L319.75,143.68 L320.69,147.60 L321.63,151.29 L322.57,154.75 L323.51,158.00 L324.45,161.02 L325.39,163.84 L326.33,166.44 L327.27,168.85 L328.21,171.06 L329.15,173.07 L330.09,174.90 L331.03,176.55 L331.97,178.02 L332.91,179.32 L333.85,180.46 L334.78,181.43 L335.72,182.24 L336.66,182.89 L337.60,183.40 L338.54,183.77 L339.48,183.99 L340.42,184.08 L341.36,184.04 L342.30,183.88 L343.24,183.59 L344.18,183.18 L345.12,182.66 L346.06,182.03 L347.00,181.30 L347.94,180.46 L348.88,179.53 L349.81,178.50 L350.75,177.39 L351.69,176.19 L352.63,174.91 L353.57,173.55 L354.51,172.12 L355.45,170.63 L356.39,169.06 L357.33,167.44 L358.27,165.75 L359.21,164.01 L360.15,162.22 L361.09,160.38 L362.03,158.50 L362.97,156.58 L363.91,154.62 L364.84,152.63 L365.78,150.61 L366.72,148.55 L367.66,146.48 L368.60,144.39 L369.54,142.27 L370.48,140.15 L371.42,138.01 L372.36,135.86 L373.30,133.71 L374.24,131.55 L375.18,129.40 L376.12,127.24 L377.06,125.10 L378.00,122.96 L378.94,120.84 L379.87,118.73 L380.81,116.63 L381.75,114.56 L382.69,112.51 L383.63,110.48 L384.57,108.49 L385.51,106.52 L386.45,104.58 L387.39,102.69 L388.33,100.82 L389.27,99.00 L390.21,97.23 L391.15,95.49 L392.09,93.81 L393.03,92.17 L393.97,90.59 L394.90,89.06 L395.84,87.58 L396.78,86.17 L397.72,84.81 L398.66,83.52 L399.60,82.29 L400.54,81.12 L401.48,80.03 L402.42,79.00 L403.36,78.04 L404.30,77.16 L405.24,76.35 L406.18,75.62 L407.12,74.97 L408.06,74.39 L409.00,73.90 L409.93,73.49 L410.87,73.16 L411.81,72.92 L412.75,72.76 L413.69,72.69 L414.63,72.71 L415.57,72.82 L416.51,73.02 L417.45,73.31 L418.39,73.70 L419.33,74.18 L420.27,74.75 L421.21,75.43 L422.15,76.20 L423.09,77.06 L424.02,78.03 L424.96,79.10 L425.90,80.26 L426.84,81.53 L427.78,82.90 L428.72,84.37 L429.66,85.94 L430.60,87.62 L431.54,89.40 L432.48,91.29 L433.42,93.28 L434.36,95.37 L435.30,97.57 L436.24,99.88 L437.18,102.29 L438.12,104.81 L439.06,107.43 L439.99,110.17 L440.93,113.00 L441.87,115.95 L442.81,119.00 L443.75,122.16 L444.69,125.42 L445.63,128.79 L446.57,132.26 L447.51,135.85 L448.45,139.53 L449.39,143.33 L450.33,147.22 L451.27,151.23 L452.21,155.33 L453.15,159.54 L454.09,163.85 L455.02,168.27 L455.96,172.79 L456.90,177.41 L457.84,182.13 L458.78,186.95 L459.72,191.87 L460.66,196.88 L461.60,202.00" fill="none" stroke="#36a8e4" stroke-width="1.7"/>
<path d="M311.30,97.18 L312.24,103.46 L313.18,109.45 L314.12,115.17 L315.06,120.61 L316.00,125.79 L316.94,130.71 L317.88,135.38 L318.81,139.79 L319.75,143.96 L320.69,147.89 L321.63,151.59 L322.57,155.07 L323.51,158.31 L324.45,161.35 L325.39,164.16 L326.33,166.78 L327.27,169.19 L328.21,171.40 L329.15,173.42 L330.09,175.25 L331.03,176.90 L331.97,178.37 L332.91,179.67 L333.85,180.80 L334.78,181.77 L335.72,182.58 L336.66,183.24 L337.60,183.75 L338.54,184.11 L339.48,184.33 L340.42,184.42 L341.36,184.37 L342.30,184.20 L343.24,183.91 L344.18,183.50 L345.12,182.97 L346.06,182.34 L347.00,181.60 L347.94,180.75 L348.88,179.81 L349.81,178.78 L350.75,177.66 L351.69,176.46 L352.63,175.17 L353.57,173.80 L354.51,172.37 L355.45,170.86 L356.39,169.29 L357.33,167.65 L358.27,165.96 L359.21,164.21 L360.15,162.41 L361.09,160.56 L362.03,158.67 L362.97,156.74 L363.91,154.77 L364.84,152.77 L365.78,150.74 L366.72,148.68 L367.66,146.59 L368.60,144.49 L369.54,142.36 L370.48,140.23 L371.42,138.08 L372.36,135.92 L373.30,133.76 L374.24,131.59 L375.18,129.43 L376.12,127.26 L377.06,125.11 L378.00,122.96 L378.94,120.83 L379.87,118.71 L380.81,116.60 L381.75,114.52 L382.69,112.46 L383.63,110.43 L384.57,108.42 L385.51,106.44 L386.45,104.50 L387.39,102.59 L388.33,100.72 L389.27,98.89 L390.21,97.11 L391.15,95.37 L392.09,93.67 L393.03,92.03 L393.97,90.44 L394.90,88.90 L395.84,87.42 L396.78,85.99 L397.72,84.63 L398.66,83.33 L399.60,82.09 L400.54,80.92 L401.48,79.82 L402.42,78.79 L403.36,77.83 L404.30,76.94 L405.24,76.13 L406.18,75.39 L407.12,74.73 L408.06,74.15 L409.00,73.65 L409.93,73.24 L410.87,72.90 L411.81,72.66 L412.75,72.50 L413.69,72.43 L414.63,72.44 L415.57,72.55 L416.51,72.75 L417.45,73.04 L418.39,73.43 L419.33,73.91 L420.27,74.48 L421.21,75.15 L422.15,75.92 L423.09,76.79 L424.02,77.76 L424.96,78.82 L425.90,79.99 L426.84,81.26 L427.78,82.63 L428.72,84.10 L429.66,85.68 L430.60,87.36 L431.54,89.14 L432.48,91.03 L433.42,93.02 L434.36,95.12 L435.30,97.33 L436.24,99.64 L437.18,102.06 L438.12,104.58 L439.06,107.21 L439.99,109.95 L440.93,112.79 L441.87,115.74 L442.81,118.80 L443.75,121.96 L444.69,125.24 L445.63,128.61 L446.57,132.10 L447.51,135.69 L448.45,139.38 L449.39,143.18 L450.33,147.09 L451.27,151.10 L452.21,155.22 L453.15,159.44 L454.09,163.76 L455.02,168.19 L455.96,172.72 L456.90,177.35 L457.84,182.08 L458.78,186.91 L459.72,191.84 L460.66,196.87 L461.60,202.00" fill="none" stroke="#2a86dc" stroke-width="1.7"/>
<path d="M311.30,97.35 L312.24,103.64 L313.18,109.65 L314.12,115.38 L315.06,120.84 L316.00,126.03 L316.94,130.97 L317.88,135.64 L318.81,140.07 L319.75,144.25 L320.69,148.19 L321.63,151.90 L322.57,155.38 L323.51,158.63 L324.45,161.67 L325.39,164.49 L326.33,167.11 L327.27,169.52 L328.21,171.74 L329.15,173.76 L330.09,175.59 L331.03,177.25 L331.97,178.72 L332.91,180.02 L333.85,181.15 L334.78,182.12 L335.72,182.93 L336.66,183.58 L337.60,184.09 L338.54,184.45 L339.48,184.67 L340.42,184.75 L341.36,184.70 L342.30,184.53 L343.24,184.23 L344.18,183.81 L345.12,183.28 L346.06,182.64 L347.00,181.89 L347.94,181.05 L348.88,180.10 L349.81,179.06 L350.75,177.93 L351.69,176.72 L352.63,175.43 L353.57,174.05 L354.51,172.61 L355.45,171.09 L356.39,169.51 L357.33,167.87 L358.27,166.16 L359.21,164.41 L360.15,162.60 L361.09,160.74 L362.03,158.84 L362.97,156.90 L363.91,154.92 L364.84,152.91 L365.78,150.87 L366.72,148.80 L367.66,146.70 L368.60,144.59 L369.54,142.45 L370.48,140.31 L371.42,138.15 L372.36,135.98 L373.30,133.81 L374.24,131.63 L375.18,129.46 L376.12,127.29 L377.06,125.12 L378.00,122.96 L378.94,120.82 L379.87,118.69 L380.81,116.58 L381.75,114.48 L382.69,112.41 L383.63,110.37 L384.57,108.35 L385.51,106.37 L386.45,104.42 L387.39,102.50 L388.33,100.62 L389.27,98.78 L390.21,96.99 L391.15,95.24 L392.09,93.54 L393.03,91.88 L393.97,90.29 L394.90,88.74 L395.84,87.25 L396.78,85.82 L397.72,84.45 L398.66,83.14 L399.60,81.90 L400.54,80.72 L401.48,79.61 L402.42,78.58 L403.36,77.61 L404.30,76.71 L405.24,75.90 L406.18,75.15 L407.12,74.49 L408.06,73.91 L409.00,73.41 L409.93,72.99 L410.87,72.65 L411.81,72.40 L412.75,72.24 L413.69,72.16 L414.63,72.18 L415.57,72.28 L416.51,72.48 L417.45,72.77 L418.39,73.15 L419.33,73.63 L420.27,74.21 L421.21,74.88 L422.15,75.65 L423.09,76.51 L424.02,77.48 L424.96,78.55 L425.90,79.72 L426.84,80.99 L427.78,82.36 L428.72,83.83 L429.66,85.41 L430.60,87.10 L431.54,88.88 L432.48,90.78 L433.42,92.77 L434.36,94.88 L435.30,97.09 L436.24,99.40 L437.18,101.82 L438.12,104.35 L439.06,106.99 L439.99,109.73 L440.93,112.58 L441.87,115.54 L442.81,118.60 L443.75,121.77 L444.69,125.05 L445.63,128.44 L446.57,131.93 L447.51,135.53 L448.45,139.23 L449.39,143.04 L450.33,146.96 L451.27,150.98 L452.21,155.11 L453.15,159.34 L454.09,163.67 L455.02,168.11 L455.96,172.65 L456.90,177.29 L457.84,182.03 L458.78,186.87 L459.72,191.82 L460.66,196.86 L461.60,202.00" fill="none" stroke="#2a62c8" stroke-width="1.7"/>
<path d="M311.30,97.52 L312.24,103.83 L313.18,109.85 L314.12,115.60 L315.06,121.07 L316.00,126.28 L316.94,131.22 L317.88,135.91 L318.81,140.34 L319.75,144.53 L320.69,148.48 L321.63,152.20 L322.57,155.69 L323.51,158.95 L324.45,161.99 L325.39,164.82 L326.33,167.44 L327.27,169.86 L328.21,172.08 L329.15,174.10 L330.09,175.94 L331.03,177.59 L331.97,179.07 L332.91,180.37 L333.85,181.50 L334.78,182.47 L335.72,183.27 L336.66,183.93 L337.60,184.43 L338.54,184.79 L339.48,185.00 L340.42,185.08 L341.36,185.03 L342.30,184.85 L343.24,184.54 L344.18,184.12 L345.12,183.58 L346.06,182.94 L347.00,182.18 L347.94,181.33 L348.88,180.38 L349.81,179.33 L350.75,178.19 L351.69,176.97 L352.63,175.67 L353.57,174.29 L354.51,172.83 L355.45,171.31 L356.39,169.72 L357.33,168.06 L358.27,166.35 L359.21,164.58 L360.15,162.76 L361.09,160.90 L362.03,158.99 L362.97,157.04 L363.91,155.05 L364.84,153.02 L365.78,150.97 L366.72,148.89 L367.66,146.79 L368.60,144.66 L369.54,142.52 L370.48,140.36 L371.42,138.20 L372.36,136.02 L373.30,133.84 L374.24,131.66 L375.18,129.48 L376.12,127.30 L377.06,125.13 L378.00,122.96 L378.94,120.81 L379.87,118.68 L380.81,116.56 L381.75,114.47 L382.69,112.40 L383.63,110.35 L384.57,108.33 L385.51,106.34 L386.45,104.39 L387.39,102.47 L388.33,100.59 L389.27,98.76 L390.21,96.96 L391.15,95.21 L392.09,93.51 L393.03,91.86 L393.97,90.26 L394.90,88.72 L395.84,87.23 L396.78,85.80 L397.72,84.43 L398.66,83.12 L399.60,81.88 L400.54,80.70 L401.48,79.60 L402.42,78.56 L403.36,77.59 L404.30,76.70 L405.24,75.88 L406.18,75.14 L407.12,74.48 L408.06,73.90 L409.00,73.40 L409.93,72.98 L410.87,72.64 L411.81,72.39 L412.75,72.23 L413.69,72.16 L414.63,72.17 L415.57,72.28 L416.51,72.48 L417.45,72.77 L418.39,73.15 L419.33,73.63 L420.27,74.20 L421.21,74.87 L422.15,75.64 L423.09,76.51 L424.02,77.48 L424.96,78.55 L425.90,79.72 L426.84,80.99 L427.78,82.36 L428.72,83.83 L429.66,85.41 L430.60,87.10 L431.54,88.88 L432.48,90.77 L433.42,92.77 L434.36,94.88 L435.30,97.09 L436.24,99.40 L437.18,101.82 L438.12,104.35 L439.06,106.99 L439.99,109.73 L440.93,112.58 L441.87,115.54 L442.81,118.60 L443.75,121.77 L444.69,125.05 L445.63,128.44 L446.57,131.93 L447.51,135.53 L448.45,139.23 L449.39,143.04 L450.33,146.96 L451.27,150.98 L452.21,155.11 L453.15,159.34 L454.09,163.67 L455.02,168.11 L455.96,172.65 L456.90,177.29 L457.84,182.03 L458.78,186.87 L459.72,191.82 L460.66,196.86 L461.60,202.00" fill="none" stroke="#2c3f9c" stroke-width="1.7"/>
<path d="M311.30,97.69 L312.24,104.01 L313.18,110.05 L314.12,115.81 L315.06,121.30 L316.00,126.52 L316.94,131.47 L317.88,136.17 L318.81,140.62 L319.75,144.82 L320.69,148.78 L321.63,152.50 L322.57,156.00 L323.51,159.26 L324.45,162.31 L325.39,165.15 L326.33,167.77 L327.27,170.19 L328.21,172.42 L329.15,174.44 L330.09,176.28 L331.03,177.94 L331.97,179.41 L332.91,180.71 L333.85,181.84 L334.78,182.81 L335.72,183.62 L336.66,184.27 L337.60,184.77 L338.54,185.12 L339.48,185.33 L340.42,185.41 L341.36,185.35 L342.30,185.17 L343.24,184.86 L344.18,184.43 L345.12,183.89 L346.06,183.23 L347.00,182.47 L347.94,181.61 L348.88,180.65 L349.81,179.60 L350.75,178.45 L351.69,177.22 L352.63,175.91 L353.57,174.52 L354.51,173.06 L355.45,171.52 L356.39,169.92 L357.33,168.26 L358.27,166.54 L359.21,164.76 L360.15,162.93 L361.09,161.05 L362.03,159.13 L362.97,157.17 L363.91,155.17 L364.84,153.14 L365.78,151.08 L366.72,148.99 L367.66,146.87 L368.60,144.74 L369.54,142.59 L370.48,140.42 L371.42,138.25 L372.36,136.06 L373.30,133.87 L374.24,131.68 L375.18,129.49 L376.12,127.31 L377.06,125.13 L378.00,122.96 L378.94,120.81 L379.87,118.67 L380.81,116.55 L381.75,114.45 L382.69,112.38 L383.63,110.33 L384.57,108.31 L385.51,106.32 L386.45,104.36 L387.39,102.45 L388.33,100.57 L389.27,98.73 L390.21,96.93 L391.15,95.18 L392.09,93.48 L393.03,91.83 L393.97,90.23 L394.90,88.69 L395.84,87.20 L396.78,85.77 L397.72,84.41 L398.66,83.10 L399.60,81.86 L400.54,80.69 L401.48,79.58 L402.42,78.54 L403.36,77.58 L404.30,76.69 L405.24,75.87 L406.18,75.13 L407.12,74.47 L408.06,73.89 L409.00,73.39 L409.93,72.97 L410.87,72.63 L411.81,72.39 L412.75,72.22 L413.69,72.15 L414.63,72.17 L415.57,72.27 L416.51,72.47 L417.45,72.76 L418.39,73.15 L419.33,73.62 L420.27,74.20 L421.21,74.87 L422.15,75.64 L423.09,76.51 L424.02,77.48 L424.96,78.54 L425.90,79.71 L426.84,80.98 L427.78,82.36 L428.72,83.83 L429.66,85.41 L430.60,87.09 L431.54,88.88 L432.48,90.77 L433.42,92.77 L434.36,94.88 L435.30,97.08 L436.24,99.40 L437.18,101.82 L438.12,104.35 L439.06,106.99 L439.99,109.73 L440.93,112.58 L441.87,115.54 L442.81,118.60 L443.75,121.77 L444.69,125.05 L445.63,128.44 L446.57,131.93 L447.51,135.53 L448.45,139.23 L449.39,143.04 L450.33,146.96 L451.27,150.98 L452.21,155.11 L453.15,159.34 L454.09,163.67 L455.02,168.11 L455.96,172.65 L456.90,177.29 L457.84,182.03 L458.78,186.87 L459.72,191.82 L460.66,196.86 L461.60,202.00" fill="none" stroke="#2a2d66" stroke-width="1.6" stroke-dasharray="4.5 2.2"/>
<line x1="341.9" y1="120.7" x2="418" y2="120.7" stroke="#777" stroke-width="1.2" stroke-dasharray="4 2.1"/>
<line x1="341.9" y1="134.2" x2="418" y2="134.2" stroke="#777" stroke-width="1.2" stroke-dasharray="4 2.1"/>
<line x1="390" y1="123" x2="390" y2="132" stroke="#888" stroke-width="1"/>
<polyline points="388.3,126 390,123.2 391.7,126" fill="none" stroke="#888" stroke-width="0.9"/>
<polyline points="388.3,129.2 390,132 391.7,129.2" fill="none" stroke="#888" stroke-width="0.9"/>
<text x="392.40" y="145.90" font-size="14.5" text-anchor="middle" fill="#333" font-family='"Liberation Serif", serif' >Δ</text>
<rect x="358.1" y="185.5" width="54.599999999999966" height="13.300000000000011" fill="#fff" stroke="#555" stroke-width="1"/>
<text x="385.40" y="196.10" font-size="9.6" text-anchor="middle" fill="#1a1a1a" font-family='"Liberation Sans", sans-serif' textLength="49" lengthAdjust="spacingAndGlyphs">5 T to –5 T</text>
<rect x="311.3" y="25.5" width="150.3" height="176.5" fill="none" stroke="#555" stroke-width="1"/>
<line x1="311.30" y1="202.0" x2="311.30" y2="200.0" stroke="#555" stroke-width="0.8"/>
<line x1="311.30" y1="25.5" x2="311.30" y2="27.5" stroke="#555" stroke-width="0.8"/>
<line x1="348.88" y1="202.0" x2="348.88" y2="200.0" stroke="#555" stroke-width="0.8"/>
<line x1="348.88" y1="25.5" x2="348.88" y2="27.5" stroke="#555" stroke-width="0.8"/>
<line x1="386.45" y1="202.0" x2="386.45" y2="200.0" stroke="#555" stroke-width="0.8"/>
<line x1="386.45" y1="25.5" x2="386.45" y2="27.5" stroke="#555" stroke-width="0.8"/>
<line x1="424.03" y1="202.0" x2="424.03" y2="200.0" stroke="#555" stroke-width="0.8"/>
<line x1="424.03" y1="25.5" x2="424.03" y2="27.5" stroke="#555" stroke-width="0.8"/>
<line x1="461.60" y1="202.0" x2="461.60" y2="200.0" stroke="#555" stroke-width="0.8"/>
<line x1="461.60" y1="25.5" x2="461.60" y2="27.5" stroke="#555" stroke-width="0.8"/>
<line x1="311.3" y1="25.50" x2="313.3" y2="25.50" stroke="#555" stroke-width="0.8"/>
<line x1="461.6" y1="25.50" x2="459.6" y2="25.50" stroke="#555" stroke-width="0.8"/>
<line x1="311.3" y1="47.56" x2="313.3" y2="47.56" stroke="#555" stroke-width="0.8"/>
<line x1="461.6" y1="47.56" x2="459.6" y2="47.56" stroke="#555" stroke-width="0.8"/>
<line x1="311.3" y1="69.62" x2="313.3" y2="69.62" stroke="#555" stroke-width="0.8"/>
<line x1="461.6" y1="69.62" x2="459.6" y2="69.62" stroke="#555" stroke-width="0.8"/>
<line x1="311.3" y1="91.69" x2="313.3" y2="91.69" stroke="#555" stroke-width="0.8"/>
<line x1="461.6" y1="91.69" x2="459.6" y2="91.69" stroke="#555" stroke-width="0.8"/>
<line x1="311.3" y1="113.75" x2="313.3" y2="113.75" stroke="#555" stroke-width="0.8"/>
<line x1="461.6" y1="113.75" x2="459.6" y2="113.75" stroke="#555" stroke-width="0.8"/>
<line x1="311.3" y1="135.81" x2="313.3" y2="135.81" stroke="#555" stroke-width="0.8"/>
<line x1="461.6" y1="135.81" x2="459.6" y2="135.81" stroke="#555" stroke-width="0.8"/>
<line x1="311.3" y1="157.88" x2="313.3" y2="157.88" stroke="#555" stroke-width="0.8"/>
<line x1="461.6" y1="157.88" x2="459.6" y2="157.88" stroke="#555" stroke-width="0.8"/>
<line x1="311.3" y1="179.94" x2="313.3" y2="179.94" stroke="#555" stroke-width="0.8"/>
<line x1="461.6" y1="179.94" x2="459.6" y2="179.94" stroke="#555" stroke-width="0.8"/>
<line x1="311.3" y1="202.00" x2="313.3" y2="202.00" stroke="#555" stroke-width="0.8"/>
<line x1="461.6" y1="202.00" x2="459.6" y2="202.00" stroke="#555" stroke-width="0.8"/>
<text x="311.30" y="214.40" font-size="9.2" text-anchor="middle" fill="#333" font-family='"Liberation Sans", sans-serif' >-0.4</text>
<text x="348.88" y="214.40" font-size="9.2" text-anchor="middle" fill="#333" font-family='"Liberation Sans", sans-serif' >-0.2</text>
<text x="386.45" y="214.40" font-size="9.2" text-anchor="middle" fill="#333" font-family='"Liberation Sans", sans-serif' >0</text>
<text x="424.03" y="214.40" font-size="9.2" text-anchor="middle" fill="#333" font-family='"Liberation Sans", sans-serif' >0.2</text>
<text x="461.60" y="214.40" font-size="9.2" text-anchor="middle" fill="#333" font-family='"Liberation Sans", sans-serif' >0.4</text>
<text x="307.30" y="29.80" font-size="9.2" text-anchor="end" fill="#333" font-family='"Liberation Sans", sans-serif' >0.2</text>
<text x="307.30" y="51.86" font-size="9.2" text-anchor="end" fill="#333" font-family='"Liberation Sans", sans-serif' >0.15</text>
<text x="307.30" y="73.92" font-size="9.2" text-anchor="end" fill="#333" font-family='"Liberation Sans", sans-serif' >0.1</text>
<text x="307.30" y="95.99" font-size="9.2" text-anchor="end" fill="#333" font-family='"Liberation Sans", sans-serif' >0.05</text>
<text x="307.30" y="118.05" font-size="9.2" text-anchor="end" fill="#333" font-family='"Liberation Sans", sans-serif' >0</text>
<text x="307.30" y="140.11" font-size="9.2" text-anchor="end" fill="#333" font-family='"Liberation Sans", sans-serif' >-0.05</text>
<text x="307.30" y="162.18" font-size="9.2" text-anchor="end" fill="#333" font-family='"Liberation Sans", sans-serif' >-0.1</text>
<text x="307.30" y="184.24" font-size="9.2" text-anchor="end" fill="#333" font-family='"Liberation Sans", sans-serif' >-0.15</text>
<text x="307.30" y="206.30" font-size="9.2" text-anchor="end" fill="#333" font-family='"Liberation Sans", sans-serif' >-0.2</text>
<rect x="476.3" y="25.30" width="15.0" height="12.11" fill="#f9f814"/>
<rect x="476.3" y="37.11" width="15.0" height="12.11" fill="#f4e12a"/>
<rect x="476.3" y="48.91" width="15.0" height="12.11" fill="#f9c536"/>
<rect x="476.3" y="60.72" width="15.0" height="12.11" fill="#ebb52f"/>
<rect x="476.3" y="72.53" width="15.0" height="12.11" fill="#a8bf3a"/>
<rect x="476.3" y="84.33" width="15.0" height="12.11" fill="#52c270"/>
<rect x="476.3" y="96.14" width="15.0" height="12.11" fill="#22bea0"/>
<rect x="476.3" y="107.95" width="15.0" height="12.11" fill="#1cb8b8"/>
<rect x="476.3" y="119.75" width="15.0" height="12.11" fill="#18b0cc"/>
<rect x="476.3" y="131.56" width="15.0" height="12.11" fill="#1ea0e0"/>
<rect x="476.3" y="143.37" width="15.0" height="12.11" fill="#2a88f0"/>
<rect x="476.3" y="155.17" width="15.0" height="12.11" fill="#3a70f2"/>
<rect x="476.3" y="166.98" width="15.0" height="12.11" fill="#4a55ee"/>
<rect x="476.3" y="178.79" width="15.0" height="12.11" fill="#4238dc"/>
<rect x="476.3" y="190.59" width="15.0" height="11.81" fill="#3828a8"/>
<rect x="476.3" y="25.3" width="15.0" height="177.1" fill="none" stroke="#3a3a3a" stroke-width="0.9"/>
<text x="497.50" y="28.20" font-size="8.3" text-anchor="start" fill="#333" font-family='"Liberation Sans", sans-serif' >1.000</text>
<line x1="489.5" y1="37.95" x2="491.3" y2="37.95" stroke="#333" stroke-width="0.9"/>
<text x="497.50" y="40.85" font-size="8.3" text-anchor="start" fill="#333" font-family='"Liberation Sans", sans-serif' >0.710</text>
<line x1="489.5" y1="50.60" x2="491.3" y2="50.60" stroke="#333" stroke-width="0.9"/>
<text x="497.50" y="53.50" font-size="8.3" text-anchor="start" fill="#333" font-family='"Liberation Sans", sans-serif' >0.510</text>
<line x1="489.5" y1="63.25" x2="491.3" y2="63.25" stroke="#333" stroke-width="0.9"/>
<text x="497.50" y="66.15" font-size="8.3" text-anchor="start" fill="#333" font-family='"Liberation Sans", sans-serif' >0.370</text>
<line x1="489.5" y1="75.90" x2="491.3" y2="75.90" stroke="#333" stroke-width="0.9"/>
<text x="497.50" y="78.80" font-size="8.3" text-anchor="start" fill="#333" font-family='"Liberation Sans", sans-serif' >0.260</text>
<line x1="489.5" y1="88.55" x2="491.3" y2="88.55" stroke="#333" stroke-width="0.9"/>
<text x="497.50" y="91.45" font-size="8.3" text-anchor="start" fill="#333" font-family='"Liberation Sans", sans-serif' >0.190</text>
<line x1="489.5" y1="101.20" x2="491.3" y2="101.20" stroke="#333" stroke-width="0.9"/>
<text x="497.50" y="104.10" font-size="8.3" text-anchor="start" fill="#333" font-family='"Liberation Sans", sans-serif' >0.130</text>
<line x1="489.5" y1="113.85" x2="491.3" y2="113.85" stroke="#333" stroke-width="0.9"/>
<text x="497.50" y="116.75" font-size="8.3" text-anchor="start" fill="#333" font-family='"Liberation Sans", sans-serif' >0.095</text>
<line x1="489.5" y1="126.50" x2="491.3" y2="126.50" stroke="#333" stroke-width="0.9"/>
<text x="497.50" y="129.40" font-size="8.3" text-anchor="start" fill="#333" font-family='"Liberation Sans", sans-serif' >0.068</text>
<line x1="489.5" y1="139.15" x2="491.3" y2="139.15" stroke="#333" stroke-width="0.9"/>
<text x="497.50" y="142.05" font-size="8.3" text-anchor="start" fill="#333" font-family='"Liberation Sans", sans-serif' >0.049</text>
<line x1="489.5" y1="151.80" x2="491.3" y2="151.80" stroke="#333" stroke-width="0.9"/>
<text x="497.50" y="154.70" font-size="8.3" text-anchor="start" fill="#333" font-family='"Liberation Sans", sans-serif' >0.035</text>
<line x1="489.5" y1="164.45" x2="491.3" y2="164.45" stroke="#333" stroke-width="0.9"/>
<text x="497.50" y="167.35" font-size="8.3" text-anchor="start" fill="#333" font-family='"Liberation Sans", sans-serif' >0.025</text>
<line x1="489.5" y1="177.10" x2="491.3" y2="177.10" stroke="#333" stroke-width="0.9"/>
<text x="497.50" y="180.00" font-size="8.3" text-anchor="start" fill="#333" font-family='"Liberation Sans", sans-serif' >0.018</text>
<line x1="489.5" y1="189.75" x2="491.3" y2="189.75" stroke="#333" stroke-width="0.9"/>
<text x="497.50" y="192.65" font-size="8.3" text-anchor="start" fill="#333" font-family='"Liberation Sans", sans-serif' >0.013</text>
<text x="497.50" y="205.30" font-size="8.3" text-anchor="start" fill="#333" font-family='"Liberation Sans", sans-serif' >0.009</text>
<text x="475.80" y="16.50" font-size="10" text-anchor="start" fill="#222" font-family='"Liberation Sans", sans-serif' >T (K)</text>
<text x="387.40" y="17.1" font-size="10" text-anchor="middle" fill="#222" font-family='"Liberation Sans", sans-serif'>V<tspan font-size="8" dy="5">Gate</tspan><tspan dy="-5"> = –1.9V</tspan></text>
<text transform="translate(276.9,115.0) rotate(-90)" font-size="14.5" text-anchor="middle" fill="#222" font-family='"Liberation Sans", sans-serif'><tspan font-style="italic">d</tspan><tspan font-family='"Liberation Serif", serif' font-size="13.5">σ</tspan><tspan font-size="8.8" dy="4.6" font-style="italic">xx</tspan><tspan dy="-4.6">/</tspan><tspan font-style="italic">d</tspan><tspan font-family='"Liberation Serif", serif' font-size="13.5">σ</tspan><tspan font-size="8.8" dy="4.6" font-style="italic">xy</tspan></text>
<text x="357.3" y="230.6" font-size="14.5" fill="#222" font-family='"Liberation Sans", sans-serif'><tspan font-family='"Liberation Serif", serif' font-size="14.2">σ</tspan><tspan font-size="8.8" dy="5" font-style="italic">xy</tspan><tspan dy="-5" dx="7.2">(</tspan><tspan font-style="italic">e</tspan><tspan font-size="9" dy="-5.5">2</tspan><tspan dy="5.5" font-style="italic">/h</tspan>)</text>
<text x="264.50" y="11.90" font-size="14" text-anchor="start" fill="#222" font-family='"Liberation Sans", sans-serif' >(b)</text>
<defs><linearGradient id="gc" x1="0" x2="1" y1="0" y2="0"><stop offset="0" stop-color="#78d0f6"/><stop offset="0.3" stop-color="#94dbf9"/><stop offset="0.7" stop-color="#d0eefb"/><stop offset="1" stop-color="#ffffff"/></linearGradient></defs>
<rect x="47.4" y="277.9" width="50.20" height="176.20000000000005" fill="#6ecdf4"/>
<rect x="97.60" y="277.9" width="12.55" height="176.20000000000005" fill="url(#gc)"/>
<line x1="97.60" y1="277.9" x2="97.60" y2="454.1" stroke="#000" stroke-opacity="0.09" stroke-width="0.9"/>
<line x1="147.80" y1="277.9" x2="147.80" y2="454.1" stroke="#000" stroke-opacity="0.09" stroke-width="0.9"/>
<line x1="198.00" y1="277.9" x2="198.00" y2="454.1" stroke="#000" stroke-opacity="0.09" stroke-width="0.9"/>
<line x1="47.4" y1="299.93" x2="248.2" y2="299.93" stroke="#000" stroke-opacity="0.09" stroke-width="0.9"/>
<line x1="47.4" y1="321.95" x2="248.2" y2="321.95" stroke="#000" stroke-opacity="0.09" stroke-width="0.9"/>
<line x1="47.4" y1="343.98" x2="248.2" y2="343.98" stroke="#000" stroke-opacity="0.09" stroke-width="0.9"/>
<line x1="47.4" y1="366.00" x2="248.2" y2="366.00" stroke="#000" stroke-opacity="0.09" stroke-width="0.9"/>
<line x1="47.4" y1="388.02" x2="248.2" y2="388.02" stroke="#000" stroke-opacity="0.09" stroke-width="0.9"/>
<line x1="47.4" y1="410.05" x2="248.2" y2="410.05" stroke="#000" stroke-opacity="0.09" stroke-width="0.9"/>
<line x1="47.4" y1="432.08" x2="248.2" y2="432.08" stroke="#000" stroke-opacity="0.09" stroke-width="0.9"/>
<line x1="47.4" y1="432.68" x2="248.2" y2="432.68" stroke="#4a4a4a" stroke-width="1.3"/>
<circle cx="49.50" cy="327.40" r="2.7" fill="none" stroke="#efbb2c" stroke-width="1.5"/>
<circle cx="72.30" cy="332.90" r="2.7" fill="none" stroke="#efbb2c" stroke-width="1.5"/>
<circle cx="97.60" cy="328.10" r="2.7" fill="none" stroke="#efbb2c" stroke-width="1.5"/>
<circle cx="122.80" cy="337.80" r="2.7" fill="none" stroke="#efbb2c" stroke-width="1.5"/>
<circle cx="147.80" cy="355.70" r="2.7" fill="none" stroke="#efbb2c" stroke-width="1.5"/>
<circle cx="172.70" cy="382.00" r="2.7" fill="none" stroke="#efbb2c" stroke-width="1.5"/>
<circle cx="197.60" cy="415.00" r="2.7" fill="none" stroke="#efbb2c" stroke-width="1.5"/>
<circle cx="222.80" cy="428.20" r="2.7" fill="none" stroke="#efbb2c" stroke-width="1.5"/>
<circle cx="247.70" cy="428.50" r="2.7" fill="none" stroke="#efbb2c" stroke-width="1.5"/>
<circle cx="51.00" cy="288.90" r="2.7" fill="none" stroke="#dc35dc" stroke-width="1.5"/>
<circle cx="72.10" cy="288.60" r="2.7" fill="none" stroke="#dc35dc" stroke-width="1.5"/>
<circle cx="97.60" cy="291.60" r="2.7" fill="none" stroke="#dc35dc" stroke-width="1.5"/>
<circle cx="122.80" cy="304.30" r="2.7" fill="none" stroke="#dc35dc" stroke-width="1.5"/>
<circle cx="147.70" cy="330.40" r="2.7" fill="none" stroke="#dc35dc" stroke-width="1.5"/>
<circle cx="172.70" cy="368.40" r="2.7" fill="none" stroke="#dc35dc" stroke-width="1.5"/>
<circle cx="197.60" cy="400.50" r="2.7" fill="none" stroke="#dc35dc" stroke-width="1.5"/>
<circle cx="247.70" cy="430.00" r="2.7" fill="none" stroke="#dc35dc" stroke-width="1.5"/>
<circle cx="49.50" cy="319.40" r="2.7" fill="none" stroke="#2279b5" stroke-width="1.5"/>
<circle cx="72.30" cy="315.30" r="2.7" fill="none" stroke="#2279b5" stroke-width="1.5"/>
<circle cx="97.60" cy="322.30" r="2.7" fill="none" stroke="#2279b5" stroke-width="1.5"/>
<circle cx="122.80" cy="327.60" r="2.7" fill="none" stroke="#2279b5" stroke-width="1.5"/>
<circle cx="147.80" cy="344.20" r="2.7" fill="none" stroke="#2279b5" stroke-width="1.5"/>
<circle cx="172.70" cy="375.10" r="2.7" fill="none" stroke="#2279b5" stroke-width="1.5"/>
<circle cx="197.60" cy="396.50" r="2.7" fill="none" stroke="#2279b5" stroke-width="1.5"/>
<circle cx="222.80" cy="419.60" r="2.7" fill="none" stroke="#2279b5" stroke-width="1.5"/>
<circle cx="247.70" cy="427.20" r="2.7" fill="none" stroke="#2279b5" stroke-width="1.5"/>
<rect x="47.4" y="277.9" width="200.79999999999998" height="176.20000000000005" fill="none" stroke="#555" stroke-width="1"/>
<line x1="47.40" y1="454.1" x2="47.40" y2="452.1" stroke="#555" stroke-width="0.8"/>
<line x1="47.40" y1="277.9" x2="47.40" y2="279.9" stroke="#555" stroke-width="0.8"/>
<text x="47.40" y="467.20" font-size="9.3" text-anchor="middle" fill="#333" font-family='"Liberation Sans", sans-serif' >0</text>
<line x1="97.60" y1="454.1" x2="97.60" y2="452.1" stroke="#555" stroke-width="0.8"/>
<line x1="97.60" y1="277.9" x2="97.60" y2="279.9" stroke="#555" stroke-width="0.8"/>
<text x="97.60" y="467.20" font-size="9.3" text-anchor="middle" fill="#333" font-family='"Liberation Sans", sans-serif' >0.2</text>
<line x1="147.80" y1="454.1" x2="147.80" y2="452.1" stroke="#555" stroke-width="0.8"/>
<line x1="147.80" y1="277.9" x2="147.80" y2="279.9" stroke="#555" stroke-width="0.8"/>
<text x="147.80" y="467.20" font-size="9.3" text-anchor="middle" fill="#333" font-family='"Liberation Sans", sans-serif' >0.4</text>
<line x1="198.00" y1="454.1" x2="198.00" y2="452.1" stroke="#555" stroke-width="0.8"/>
<line x1="198.00" y1="277.9" x2="198.00" y2="279.9" stroke="#555" stroke-width="0.8"/>
<text x="198.00" y="467.20" font-size="9.3" text-anchor="middle" fill="#333" font-family='"Liberation Sans", sans-serif' >0.6</text>
<line x1="248.20" y1="454.1" x2="248.20" y2="452.1" stroke="#555" stroke-width="0.8"/>
<line x1="248.20" y1="277.9" x2="248.20" y2="279.9" stroke="#555" stroke-width="0.8"/>
<text x="248.20" y="467.20" font-size="9.3" text-anchor="middle" fill="#333" font-family='"Liberation Sans", sans-serif' >0.8</text>
<line x1="47.4" y1="277.90" x2="49.4" y2="277.90" stroke="#555" stroke-width="0.8"/>
<line x1="248.2" y1="277.90" x2="246.2" y2="277.90" stroke="#555" stroke-width="0.8"/>
<text x="43.90" y="281.80" font-size="9.3" text-anchor="end" fill="#333" font-family='"Liberation Sans", sans-serif' >0.35</text>
<line x1="47.4" y1="299.93" x2="49.4" y2="299.93" stroke="#555" stroke-width="0.8"/>
<line x1="248.2" y1="299.93" x2="246.2" y2="299.93" stroke="#555" stroke-width="0.8"/>
<text x="43.90" y="303.82" font-size="9.3" text-anchor="end" fill="#333" font-family='"Liberation Sans", sans-serif' >0.30</text>
<line x1="47.4" y1="321.95" x2="49.4" y2="321.95" stroke="#555" stroke-width="0.8"/>
<line x1="248.2" y1="321.95" x2="246.2" y2="321.95" stroke="#555" stroke-width="0.8"/>
<text x="43.90" y="325.85" font-size="9.3" text-anchor="end" fill="#333" font-family='"Liberation Sans", sans-serif' >0.25</text>
<line x1="47.4" y1="343.98" x2="49.4" y2="343.98" stroke="#555" stroke-width="0.8"/>
<line x1="248.2" y1="343.98" x2="246.2" y2="343.98" stroke="#555" stroke-width="0.8"/>
<text x="43.90" y="347.88" font-size="9.3" text-anchor="end" fill="#333" font-family='"Liberation Sans", sans-serif' >0.20</text>
<line x1="47.4" y1="366.00" x2="49.4" y2="366.00" stroke="#555" stroke-width="0.8"/>
<line x1="248.2" y1="366.00" x2="246.2" y2="366.00" stroke="#555" stroke-width="0.8"/>
<text x="43.90" y="369.90" font-size="9.3" text-anchor="end" fill="#333" font-family='"Liberation Sans", sans-serif' >0.15</text>
<line x1="47.4" y1="388.02" x2="49.4" y2="388.02" stroke="#555" stroke-width="0.8"/>
<line x1="248.2" y1="388.02" x2="246.2" y2="388.02" stroke="#555" stroke-width="0.8"/>
<text x="43.90" y="391.92" font-size="9.3" text-anchor="end" fill="#333" font-family='"Liberation Sans", sans-serif' >0.10</text>
<line x1="47.4" y1="410.05" x2="49.4" y2="410.05" stroke="#555" stroke-width="0.8"/>
<line x1="248.2" y1="410.05" x2="246.2" y2="410.05" stroke="#555" stroke-width="0.8"/>
<text x="43.90" y="413.95" font-size="9.3" text-anchor="end" fill="#333" font-family='"Liberation Sans", sans-serif' >0.05</text>
<line x1="47.4" y1="432.08" x2="49.4" y2="432.08" stroke="#555" stroke-width="0.8"/>
<line x1="248.2" y1="432.08" x2="246.2" y2="432.08" stroke="#555" stroke-width="0.8"/>
<text x="43.90" y="435.98" font-size="9.3" text-anchor="end" fill="#333" font-family='"Liberation Sans", sans-serif' >0.00</text>
<line x1="47.4" y1="454.10" x2="49.4" y2="454.10" stroke="#555" stroke-width="0.8"/>
<line x1="248.2" y1="454.10" x2="246.2" y2="454.10" stroke="#555" stroke-width="0.8"/>
<text x="43.90" y="458.00" font-size="9.3" text-anchor="end" fill="#333" font-family='"Liberation Sans", sans-serif' >-0.05</text>
<rect x="166.8" y="285.8" width="75.80000000000001" height="43.19999999999999" fill="#fff" stroke="#555" stroke-width="1"/>
<circle cx="173.50" cy="293.60" r="2.7" fill="none" stroke="#dc35dc" stroke-width="1.5"/>
<text x="189.3" y="295.20" font-size="8.6" fill="#222" font-family='"Liberation Sans", sans-serif'>V<tspan font-size="7" dy="3.4">Gate</tspan><tspan dy="-3.4">= –8 V</tspan></text>
<circle cx="173.50" cy="307.40" r="2.7" fill="none" stroke="#2279b5" stroke-width="1.5"/>
<text x="189.3" y="309.00" font-size="8.6" fill="#222" font-family='"Liberation Sans", sans-serif'>V<tspan font-size="7" dy="3.4">Gate</tspan><tspan dy="-3.4">= –1.9 V</tspan></text>
<circle cx="173.50" cy="321.20" r="2.7" fill="none" stroke="#efbb2c" stroke-width="1.5"/>
<text x="189.3" y="322.80" font-size="8.6" fill="#222" font-family='"Liberation Sans", sans-serif'>V<tspan font-size="7" dy="3.4">Gate</tspan><tspan dy="-3.4">= –0.3 V</tspan></text>
<text x="147.80" y="268.7" font-size="13" text-anchor="middle" fill="#222" font-family='"Liberation Sans", sans-serif' text-decoration="underline">–5 T to 5 T</text>
<text x="0.80" y="268.80" font-size="14.8" text-anchor="start" fill="#222" font-family='"Liberation Sans", sans-serif' >(c)</text>
<text x="147.80" y="483.60" font-size="12.2" text-anchor="middle" fill="#222" font-family='"Liberation Sans", sans-serif' textLength="25.4" lengthAdjust="spacingAndGlyphs">T (K)</text>
<text transform="translate(15.9,366.4) rotate(-90)" font-size="13.8" text-anchor="middle" fill="#222" font-family='"Liberation Serif", serif'>Δ</text>
<defs><linearGradient id="gd" x1="0" x2="1" y1="0" y2="0"><stop offset="0" stop-color="#78d0f6"/><stop offset="0.3" stop-color="#94dbf9"/><stop offset="0.7" stop-color="#d0eefb"/><stop offset="1" stop-color="#ffffff"/></linearGradient></defs>
<rect x="311.2" y="277.9" width="50.15" height="176.20000000000005" fill="#6ecdf4"/>
<rect x="361.35" y="277.9" width="12.54" height="176.20000000000005" fill="url(#gd)"/>
<line x1="361.35" y1="277.9" x2="361.35" y2="454.1" stroke="#000" stroke-opacity="0.09" stroke-width="0.9"/>
<line x1="411.50" y1="277.9" x2="411.50" y2="454.1" stroke="#000" stroke-opacity="0.09" stroke-width="0.9"/>
<line x1="461.65" y1="277.9" x2="461.65" y2="454.1" stroke="#000" stroke-opacity="0.09" stroke-width="0.9"/>
<line x1="311.2" y1="299.93" x2="511.8" y2="299.93" stroke="#000" stroke-opacity="0.09" stroke-width="0.9"/>
<line x1="311.2" y1="321.95" x2="511.8" y2="321.95" stroke="#000" stroke-opacity="0.09" stroke-width="0.9"/>
<line x1="311.2" y1="343.98" x2="511.8" y2="343.98" stroke="#000" stroke-opacity="0.09" stroke-width="0.9"/>
<line x1="311.2" y1="366.00" x2="511.8" y2="366.00" stroke="#000" stroke-opacity="0.09" stroke-width="0.9"/>
<line x1="311.2" y1="388.02" x2="511.8" y2="388.02" stroke="#000" stroke-opacity="0.09" stroke-width="0.9"/>
<line x1="311.2" y1="410.05" x2="511.8" y2="410.05" stroke="#000" stroke-opacity="0.09" stroke-width="0.9"/>
<line x1="311.2" y1="432.08" x2="511.8" y2="432.08" stroke="#000" stroke-opacity="0.09" stroke-width="0.9"/>
<line x1="311.2" y1="432.68" x2="511.8" y2="432.68" stroke="#4a4a4a" stroke-width="1.3"/>
<path d="M311.20,330.90L315.80,335.50M311.20,335.50L315.80,330.90" stroke="#efbb2c" stroke-width="1.6"/>
<path d="M334.00,329.10L338.60,333.70M334.00,333.70L338.60,329.10" stroke="#efbb2c" stroke-width="1.6"/>
<path d="M359.20,329.90L363.80,334.50M359.20,334.50L363.80,329.90" stroke="#efbb2c" stroke-width="1.6"/>
<path d="M384.20,334.50L388.80,339.10M384.20,339.10L388.80,334.50" stroke="#efbb2c" stroke-width="1.6"/>
<path d="M408.90,356.20L413.50,360.80M408.90,360.80L413.50,356.20" stroke="#efbb2c" stroke-width="1.6"/>
<path d="M434.20,383.90L438.80,388.50M434.20,388.50L438.80,383.90" stroke="#efbb2c" stroke-width="1.6"/>
<path d="M459.20,409.70L463.80,414.30M459.20,414.30L463.80,409.70" stroke="#efbb2c" stroke-width="1.6"/>
<path d="M484.50,430.00L489.10,434.60M484.50,434.60L489.10,430.00" stroke="#efbb2c" stroke-width="1.6"/>
<path d="M509.70,430.30L514.30,434.90M509.70,434.90L514.30,430.30" stroke="#efbb2c" stroke-width="1.6"/>
<path d="M312.80,287.30L317.40,291.90M312.80,291.90L317.40,287.30" stroke="#dc35dc" stroke-width="1.6"/>
<path d="M334.00,290.00L338.60,294.60M334.00,294.60L338.60,290.00" stroke="#dc35dc" stroke-width="1.6"/>
<path d="M359.20,291.20L363.80,295.80M359.20,295.80L363.80,291.20" stroke="#dc35dc" stroke-width="1.6"/>
<path d="M384.20,302.00L388.80,306.60M384.20,306.60L388.80,302.00" stroke="#dc35dc" stroke-width="1.6"/>
<path d="M409.10,330.90L413.70,335.50M409.10,335.50L413.70,330.90" stroke="#dc35dc" stroke-width="1.6"/>
<path d="M434.20,367.00L438.80,371.60M434.20,371.60L438.80,367.00" stroke="#dc35dc" stroke-width="1.6"/>
<path d="M459.20,398.20L463.80,402.80M459.20,402.80L463.80,398.20" stroke="#dc35dc" stroke-width="1.6"/>
<path d="M484.50,420.80L489.10,425.40M484.50,425.40L489.10,420.80" stroke="#dc35dc" stroke-width="1.6"/>
<path d="M509.70,427.20L514.30,431.80M509.70,431.80L514.30,427.20" stroke="#dc35dc" stroke-width="1.6"/>
<path d="M311.20,317.10L315.80,321.70M311.20,321.70L315.80,317.10" stroke="#2279b5" stroke-width="1.6"/>
<path d="M334.00,317.30L338.60,321.90M334.00,321.90L338.60,317.30" stroke="#2279b5" stroke-width="1.6"/>
<path d="M359.20,319.30L363.80,323.90M359.20,323.90L363.80,319.30" stroke="#2279b5" stroke-width="1.6"/>
<path d="M384.20,326.90L388.80,331.50M384.20,331.50L388.80,326.90" stroke="#2279b5" stroke-width="1.6"/>
<path d="M408.90,343.90L413.50,348.50M408.90,348.50L413.50,343.90" stroke="#2279b5" stroke-width="1.6"/>
<path d="M434.20,374.60L438.80,379.20M434.20,379.20L438.80,374.60" stroke="#2279b5" stroke-width="1.6"/>
<path d="M459.20,398.20L463.80,402.80M459.20,402.80L463.80,398.20" stroke="#2279b5" stroke-width="1.6"/>
<path d="M484.50,417.30L489.10,421.90M484.50,421.90L489.10,417.30" stroke="#2279b5" stroke-width="1.6"/>
<path d="M509.70,427.20L514.30,431.80M509.70,431.80L514.30,427.20" stroke="#2279b5" stroke-width="1.6"/>
<rect x="311.2" y="277.9" width="200.60000000000002" height="176.20000000000005" fill="none" stroke="#555" stroke-width="1"/>
<line x1="311.20" y1="454.1" x2="311.20" y2="452.1" stroke="#555" stroke-width="0.8"/>
<line x1="311.20" y1="277.9" x2="311.20" y2="279.9" stroke="#555" stroke-width="0.8"/>
<text x="311.20" y="467.20" font-size="9.3" text-anchor="middle" fill="#333" font-family='"Liberation Sans", sans-serif' >0</text>
<line x1="361.35" y1="454.1" x2="361.35" y2="452.1" stroke="#555" stroke-width="0.8"/>
<line x1="361.35" y1="277.9" x2="361.35" y2="279.9" stroke="#555" stroke-width="0.8"/>
<text x="361.35" y="467.20" font-size="9.3" text-anchor="middle" fill="#333" font-family='"Liberation Sans", sans-serif' >0.2</text>
<line x1="411.50" y1="454.1" x2="411.50" y2="452.1" stroke="#555" stroke-width="0.8"/>
<line x1="411.50" y1="277.9" x2="411.50" y2="279.9" stroke="#555" stroke-width="0.8"/>
<text x="411.50" y="467.20" font-size="9.3" text-anchor="middle" fill="#333" font-family='"Liberation Sans", sans-serif' >0.4</text>
<line x1="461.65" y1="454.1" x2="461.65" y2="452.1" stroke="#555" stroke-width="0.8"/>
<line x1="461.65" y1="277.9" x2="461.65" y2="279.9" stroke="#555" stroke-width="0.8"/>
<text x="461.65" y="467.20" font-size="9.3" text-anchor="middle" fill="#333" font-family='"Liberation Sans", sans-serif' >0.6</text>
<line x1="511.80" y1="454.1" x2="511.80" y2="452.1" stroke="#555" stroke-width="0.8"/>
<line x1="511.80" y1="277.9" x2="511.80" y2="279.9" stroke="#555" stroke-width="0.8"/>
<text x="511.80" y="467.20" font-size="9.3" text-anchor="middle" fill="#333" font-family='"Liberation Sans", sans-serif' >0.8</text>
<line x1="311.2" y1="277.90" x2="313.2" y2="277.90" stroke="#555" stroke-width="0.8"/>
<line x1="511.8" y1="277.90" x2="509.8" y2="277.90" stroke="#555" stroke-width="0.8"/>
<text x="307.70" y="281.80" font-size="9.3" text-anchor="end" fill="#333" font-family='"Liberation Sans", sans-serif' >0.35</text>
<line x1="311.2" y1="299.93" x2="313.2" y2="299.93" stroke="#555" stroke-width="0.8"/>
<line x1="511.8" y1="299.93" x2="509.8" y2="299.93" stroke="#555" stroke-width="0.8"/>
<text x="307.70" y="303.82" font-size="9.3" text-anchor="end" fill="#333" font-family='"Liberation Sans", sans-serif' >0.30</text>
<line x1="311.2" y1="321.95" x2="313.2" y2="321.95" stroke="#555" stroke-width="0.8"/>
<line x1="511.8" y1="321.95" x2="509.8" y2="321.95" stroke="#555" stroke-width="0.8"/>
<text x="307.70" y="325.85" font-size="9.3" text-anchor="end" fill="#333" font-family='"Liberation Sans", sans-serif' >0.25</text>
<line x1="311.2" y1="343.98" x2="313.2" y2="343.98" stroke="#555" stroke-width="0.8"/>
<line x1="511.8" y1="343.98" x2="509.8" y2="343.98" stroke="#555" stroke-width="0.8"/>
<text x="307.70" y="347.88" font-size="9.3" text-anchor="end" fill="#333" font-family='"Liberation Sans", sans-serif' >0.20</text>
<line x1="311.2" y1="366.00" x2="313.2" y2="366.00" stroke="#555" stroke-width="0.8"/>
<line x1="511.8" y1="366.00" x2="509.8" y2="366.00" stroke="#555" stroke-width="0.8"/>
<text x="307.70" y="369.90" font-size="9.3" text-anchor="end" fill="#333" font-family='"Liberation Sans", sans-serif' >0.15</text>
<line x1="311.2" y1="388.02" x2="313.2" y2="388.02" stroke="#555" stroke-width="0.8"/>
<line x1="511.8" y1="388.02" x2="509.8" y2="388.02" stroke="#555" stroke-width="0.8"/>
<text x="307.70" y="391.92" font-size="9.3" text-anchor="end" fill="#333" font-family='"Liberation Sans", sans-serif' >0.10</text>
<line x1="311.2" y1="410.05" x2="313.2" y2="410.05" stroke="#555" stroke-width="0.8"/>
<line x1="511.8" y1="410.05" x2="509.8" y2="410.05" stroke="#555" stroke-width="0.8"/>
<text x="307.70" y="413.95" font-size="9.3" text-anchor="end" fill="#333" font-family='"Liberation Sans", sans-serif' >0.05</text>
<line x1="311.2" y1="432.08" x2="313.2" y2="432.08" stroke="#555" stroke-width="0.8"/>
<line x1="511.8" y1="432.08" x2="509.8" y2="432.08" stroke="#555" stroke-width="0.8"/>
<text x="307.70" y="435.98" font-size="9.3" text-anchor="end" fill="#333" font-family='"Liberation Sans", sans-serif' >0.00</text>
<line x1="311.2" y1="454.10" x2="313.2" y2="454.10" stroke="#555" stroke-width="0.8"/>
<line x1="511.8" y1="454.10" x2="509.8" y2="454.10" stroke="#555" stroke-width="0.8"/>
<text x="307.70" y="458.00" font-size="9.3" text-anchor="end" fill="#333" font-family='"Liberation Sans", sans-serif' >-0.05</text>
<rect x="430.6" y="285.8" width="76.89999999999998" height="43.19999999999999" fill="#fff" stroke="#555" stroke-width="1"/>
<path d="M435.00,291.30L439.60,295.90M435.00,295.90L439.60,291.30" stroke="#dc35dc" stroke-width="1.6"/>
<text x="453.1" y="295.20" font-size="8.6" fill="#222" font-family='"Liberation Sans", sans-serif'>V<tspan font-size="7" dy="3.4">Gate</tspan><tspan dy="-3.4">= –8 V</tspan></text>
<path d="M435.00,305.10L439.60,309.70M435.00,309.70L439.60,305.10" stroke="#2279b5" stroke-width="1.6"/>
<text x="453.1" y="309.00" font-size="8.6" fill="#222" font-family='"Liberation Sans", sans-serif'>V<tspan font-size="7" dy="3.4">Gate</tspan><tspan dy="-3.4">= –1.9 V</tspan></text>
<path d="M435.00,318.90L439.60,323.50M435.00,323.50L439.60,318.90" stroke="#efbb2c" stroke-width="1.6"/>
<text x="453.1" y="322.80" font-size="8.6" fill="#222" font-family='"Liberation Sans", sans-serif'>V<tspan font-size="7" dy="3.4">Gate</tspan><tspan dy="-3.4">= –0.3 V</tspan></text>
<text x="411.50" y="268.7" font-size="13" text-anchor="middle" fill="#222" font-family='"Liberation Sans", sans-serif' text-decoration="underline">5 T to –5 T</text>
<text x="264.30" y="268.80" font-size="14.8" text-anchor="start" fill="#222" font-family='"Liberation Sans", sans-serif' >(d)</text>
<text x="411.50" y="483.60" font-size="12.2" text-anchor="middle" fill="#222" font-family='"Liberation Sans", sans-serif' textLength="25.4" lengthAdjust="spacingAndGlyphs">T (K)</text>
<text transform="translate(279.6,366.4) rotate(-90)" font-size="13.8" text-anchor="middle" fill="#222" font-family='"Liberation Serif", serif'>Δ</text>
</svg>
</body></html>
